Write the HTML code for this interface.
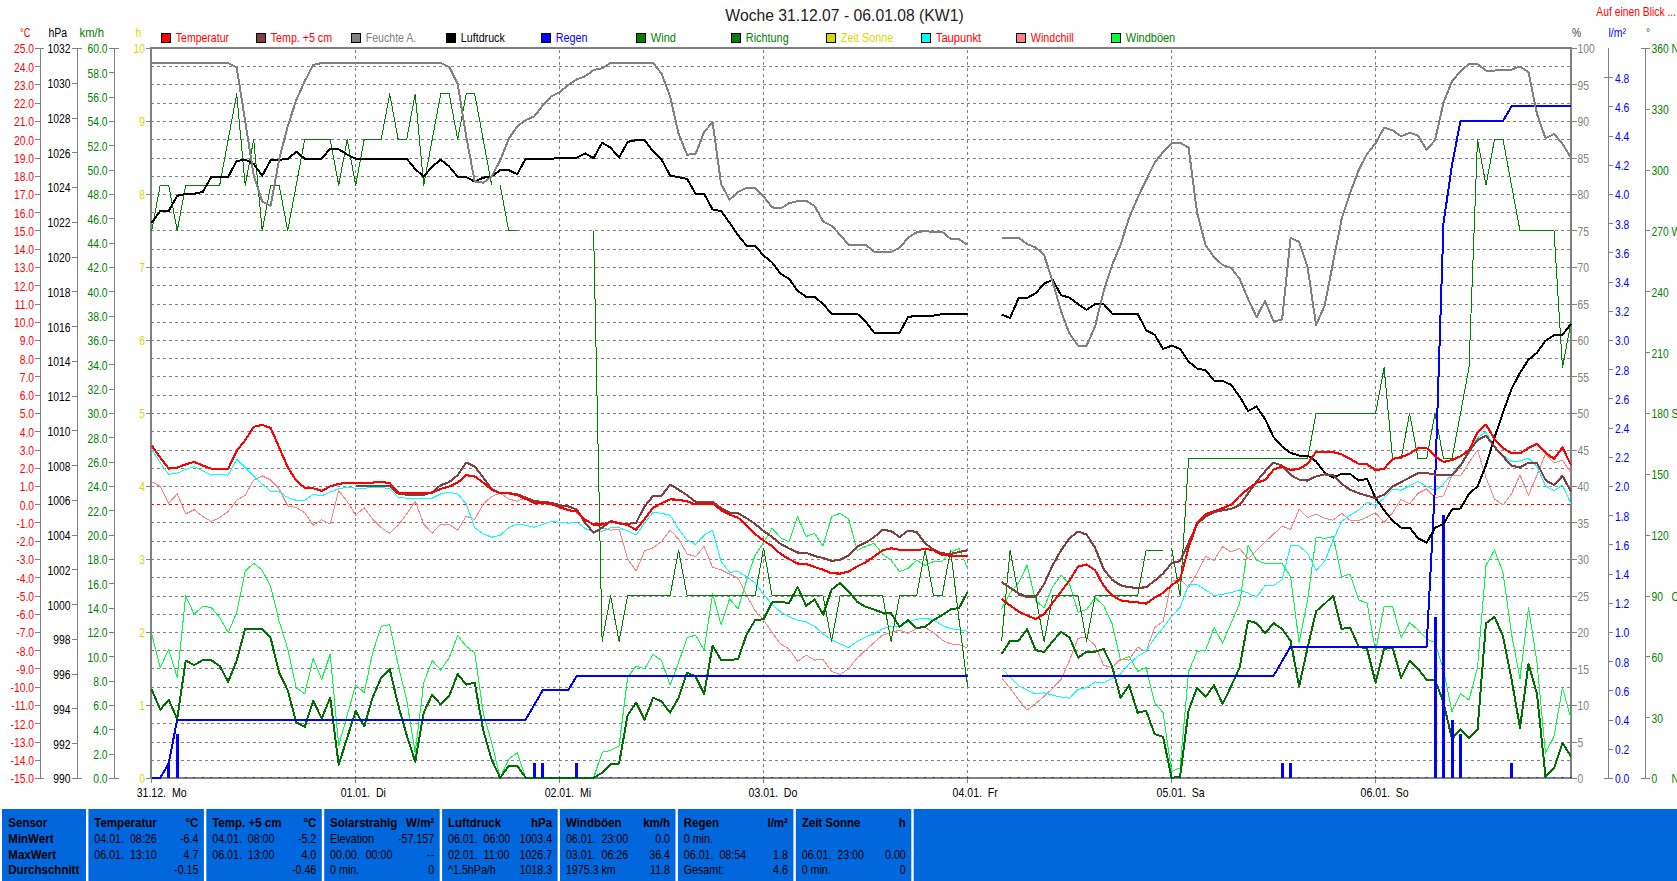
<!DOCTYPE html>
<html lang="de"><head><meta charset="utf-8"><title>Woche 31.12.07 - 06.01.08 (KW1)</title>
<style>html,body{margin:0;padding:0;background:#fff;overflow:hidden}svg{display:block}</style></head>
<body>
<svg width="1677" height="881" viewBox="0 0 1677 881" font-family="'Liberation Sans', Arial, sans-serif">
<rect width="1677" height="881" fill="#fff"/>
<text transform="translate(844.5,20.5) scale(0.983,1)" font-size="16" fill="#202020" text-anchor="middle" xml:space="preserve">Woche 31.12.07 - 06.01.08 (KW1)</text>
<text transform="translate(1676.0,16.0) scale(0.86,1)" font-size="12" fill="#ff0000" text-anchor="end" xml:space="preserve">Auf einen Blick ...</text>
<g shape-rendering="crispEdges" stroke="#808080" stroke-width="1" stroke-dasharray="3 3" fill="none">
<path d="M151 66.5H1570"/>
<path d="M151 84.5H1570"/>
<path d="M151 103.5H1570"/>
<path d="M151 121.5H1570"/>
<path d="M151 139.5H1570"/>
<path d="M151 158.5H1570"/>
<path d="M151 176.5H1570"/>
<path d="M151 194.5H1570"/>
<path d="M151 212.5H1570"/>
<path d="M151 230.5H1570"/>
<path d="M151 249.5H1570"/>
<path d="M151 267.5H1570"/>
<path d="M151 285.5H1570"/>
<path d="M151 304.5H1570"/>
<path d="M151 322.5H1570"/>
<path d="M151 340.5H1570"/>
<path d="M151 358.5H1570"/>
<path d="M151 376.5H1570"/>
<path d="M151 395.5H1570"/>
<path d="M151 413.5H1570"/>
<path d="M151 431.5H1570"/>
<path d="M151 450.5H1570"/>
<path d="M151 468.5H1570"/>
<path d="M151 486.5H1570"/>
<path d="M151 522.5H1570"/>
<path d="M151 541.5H1570"/>
<path d="M151 559.5H1570"/>
<path d="M151 577.5H1570"/>
<path d="M151 596.5H1570"/>
<path d="M151 614.5H1570"/>
<path d="M151 632.5H1570"/>
<path d="M151 650.5H1570"/>
<path d="M151 668.5H1570"/>
<path d="M151 687.5H1570"/>
<path d="M151 705.5H1570"/>
<path d="M151 723.5H1570"/>
<path d="M151 742.5H1570"/>
<path d="M151 760.5H1570"/>
<path d="M355.5 50V777"/>
<path d="M559.5 50V777"/>
<path d="M763.5 50V777"/>
<path d="M967.5 50V777"/>
<path d="M1171.5 50V777"/>
<path d="M1375.5 50V777"/>
</g>
<path d="M151 504.5H1570" stroke="#ff0000" stroke-width="1" stroke-dasharray="3 3" shape-rendering="crispEdges" fill="none"/>
<g shape-rendering="crispEdges">
<rect x="150" y="47" width="1422" height="2" fill="#808080"/>
<rect x="150" y="777" width="1422" height="2" fill="#808080"/>
<rect x="150" y="47" width="2" height="732" fill="#808080"/>
<rect x="1570" y="47" width="2" height="732" fill="#808080"/>
</g>
<clipPath id="cp"><rect x="150" y="47" width="1422" height="732"/></clipPath>
<g clip-path="url(#cp)" shape-rendering="crispEdges">
<polyline points="151.7,633.8 160.2,667.7 168.7,649.4 177.2,677.7 185.7,595.8 194.2,614.3 202.7,606.3 211.2,607.5 219.7,617.6 228.2,632.6 236.7,612.6 245.2,571.2 253.7,563.2 262.2,570.2 270.7,586.5 279.2,621.3 287.7,648.9 296.2,687.7 304.7,693.9 313.2,658.4 321.7,679.4 330.2,653.9 338.7,745.8 347.2,715.2 355.7,684.7 364.2,692.7 372.7,652.6 381.2,626.3 389.7,624.6 398.2,665.1 406.7,700.2 415.2,752.8 423.7,682.7 432.2,660.6 440.7,670.2 449.2,657.6 457.7,635.6 466.2,646.4 474.7,652.6 483.2,712.7 491.7,742.8 500.2,777.8 508.7,759.1 517.2,752.8 525.7,777.8 593.6,777.8 602.1,752.3 610.6,750.3 619.1,745.8 627.6,677.7 636.1,665.9 644.6,668.9 653.1,654.4 661.6,660.6 670.1,685.2 678.6,662.6 687.1,637.6 695.6,635.1 704.1,650.1 712.6,593.8 721.1,624.6 729.6,598.8 738.1,608.8 746.6,580.5 755.1,555.3 763.6,542.7 772.1,528.2 780.6,537.7 789.1,542.0 797.6,516.5 806.1,536.5 814.6,533.5 823.1,546.0 831.6,516.5 840.1,513.4 848.6,519.0 857.1,550.3 865.6,546.5 874.1,543.3 882.6,554.0 891.1,560.3 899.6,571.6 908.1,568.3 916.6,560.3 925.1,565.3 933.6,561.5 942.1,561.0 950.6,552.0 959.1,548.5 967.6,568.3" fill="none" stroke="#00ff40" stroke-width="1" stroke-linejoin="round"/>
<polyline points="1001.6,609.1 1010.1,592.8 1018.6,582.8 1027.1,565.3 1035.6,600.4 1044.1,607.9 1052.6,586.6 1061.1,575.3 1069.6,584.1 1078.1,612.4 1086.6,609.4 1095.1,597.8 1103.6,605.4 1112.1,623.8 1120.6,660.1 1129.1,656.4 1137.6,671.4 1146.1,667.7 1154.6,702.7 1163.1,712.7 1171.6,771.6 1180.1,767.8 1188.6,671.4 1197.1,651.4 1205.6,650.1 1214.1,627.6 1222.6,643.1 1231.1,623.1 1239.6,603.8 1248.1,545.3 1256.6,560.3 1265.1,563.3 1273.6,563.3 1282.1,563.3 1290.6,576.6 1299.1,642.6 1307.6,600.0 1316.1,537.0 1324.6,538.5 1333.1,536.5 1341.6,576.6 1350.1,574.1 1358.6,600.0 1367.1,603.0 1375.6,651.4 1384.1,606.3 1392.6,606.3 1401.1,637.6 1409.6,622.6 1418.1,630.1 1426.6,638.9 1435.0,642.6 1443.5,670.2 1452.0,711.5 1460.5,693.9 1469.0,700.2 1477.5,667.7 1486.0,565.5 1494.5,549.9 1503.0,572.5 1511.5,633.8 1520.0,678.9 1528.5,607.5 1537.0,662.6 1545.5,753.3 1554.0,736.5 1562.5,687.7 1571.0,719.0" fill="none" stroke="#00ff40" stroke-width="1" stroke-linejoin="round"/>
<polyline points="151.7,481.9 160.2,486.4 168.7,503.4 177.2,493.9 185.7,513.9 194.2,509.7 202.7,516.5 211.2,521.5 219.7,517.7 228.2,511.4 236.7,500.2 245.2,495.2 253.7,480.1 262.2,475.9 270.7,480.1 279.2,488.9 287.7,505.9 296.2,507.7 304.7,512.7 313.2,525.2 321.7,519.7 330.2,524.0 338.7,490.7 347.2,501.4 355.7,515.2 364.2,507.7 372.7,519.0 381.2,527.7 389.7,533.2 398.2,525.2 406.7,513.9 415.2,501.4 423.7,524.0 432.2,533.2 440.7,524.0 449.2,524.5 457.7,530.2 466.2,516.0 474.7,519.7 483.2,503.9 491.7,496.4 500.2,493.2 508.7,498.9 517.2,501.4 525.7,497.7 534.2,502.7 542.7,503.2 551.2,503.9 559.7,507.2 568.2,510.2 576.7,511.4 585.1,519.7 593.6,524.5 602.1,527.7 610.6,530.2 619.1,529.2 627.6,559.0 636.1,571.0 644.6,551.0 653.1,547.8 661.6,541.5 670.1,530.2 678.6,539.0 687.1,554.0 695.6,556.5 704.1,546.5 712.6,567.3 721.1,569.8 729.6,574.1 738.1,578.3 746.6,595.5 755.1,610.6 763.6,620.1 772.1,632.6 780.6,643.9 789.1,648.9 797.6,661.4 806.1,655.1 814.6,660.1 823.1,659.4 831.6,671.4 840.1,674.4 848.6,668.9 857.1,658.1 865.6,650.1 874.1,642.6 882.6,635.1 891.1,632.6 899.6,630.1 908.1,633.3 916.6,628.3 925.1,627.6 933.6,632.6 942.1,640.1 950.6,643.9 959.1,644.6 967.6,648.1" fill="none" stroke="#ff8080" stroke-width="1" stroke-linejoin="round"/>
<polyline points="1001.6,677.7 1010.1,688.4 1018.6,699.7 1027.1,710.2 1035.6,703.5 1044.1,696.5 1052.6,688.2 1061.1,679.4 1069.6,660.1 1078.1,638.1 1086.6,637.6 1095.1,645.6 1103.6,665.1 1112.1,667.7 1120.6,658.9 1129.1,660.1 1137.6,647.1 1146.1,651.4 1154.6,627.6 1163.1,621.3 1171.6,581.3 1180.1,579.5 1188.6,587.5 1197.1,572.8 1205.6,556.5 1214.1,560.3 1222.6,546.5 1231.1,552.0 1239.6,548.3 1248.1,559.0 1256.6,550.3 1265.1,542.0 1273.6,534.0 1282.1,526.0 1290.6,529.5 1299.1,509.4 1307.6,517.7 1316.1,513.9 1324.6,518.2 1333.1,520.2 1341.6,513.4 1350.1,520.2 1358.6,520.7 1367.1,517.2 1375.6,512.7 1384.1,522.7 1392.6,512.7 1401.1,499.4 1409.6,503.9 1418.1,493.2 1426.6,488.9 1435.0,497.7 1443.5,495.9 1452.0,475.1 1460.5,475.9 1469.0,462.6 1477.5,450.1 1486.0,477.6 1494.5,498.9 1503.0,505.2 1511.5,493.9 1520.0,475.1 1528.5,495.2 1537.0,475.1 1545.5,453.8 1554.0,463.1 1562.5,460.1 1571.0,473.1" fill="none" stroke="#ff8080" stroke-width="1" stroke-linejoin="round"/>
<polyline points="151.7,449.3 160.2,462.6 168.7,474.4 177.2,473.1 185.7,469.4 194.2,466.6 202.7,470.9 211.2,475.1 219.7,474.1 228.2,475.1 236.7,459.4 245.2,467.6 253.7,476.4 262.2,483.9 270.7,491.4 279.2,491.7 287.7,497.7 296.2,500.2 304.7,500.2 313.2,494.4 321.7,495.9 330.2,491.9 338.7,488.9 347.2,487.2 355.7,488.2 364.2,488.2 372.7,487.7 381.2,487.7 389.7,488.4 398.2,497.2 406.7,498.2 432.2,498.2 440.7,493.9 449.2,492.2 457.7,493.9 466.2,503.9 474.7,527.7 483.2,534.0 491.7,537.2 500.2,535.2 508.7,527.7 517.2,524.0 525.7,525.2 534.2,527.2 542.7,524.5 551.2,521.5 559.7,522.2 568.2,523.2 576.7,522.2 585.1,528.5 593.6,531.5 602.1,531.5 610.6,527.7 619.1,527.7 627.6,531.0 636.1,535.2 644.6,522.7 653.1,512.2 661.6,513.4 670.1,515.2 678.6,529.0 687.1,540.2 695.6,544.5 704.1,535.2 712.6,530.2 721.1,561.5 729.6,572.3 738.1,571.6 746.6,576.6 755.1,583.0 763.6,594.5 772.1,604.3 780.6,612.1 789.1,616.8 797.6,620.1 806.1,621.8 814.6,626.3 823.1,633.8 831.6,640.1 840.1,643.9 848.6,647.6 857.1,641.4 865.6,637.1 874.1,633.8 882.6,628.8 891.1,626.3 899.6,626.3 908.1,621.8 916.6,619.3 925.1,618.3 933.6,620.1 942.1,625.1 950.6,628.8 959.1,629.6 967.6,631.3" fill="none" stroke="#00ffff" stroke-width="1" stroke-linejoin="round"/>
<polyline points="1001.6,668.9 1010.1,676.9 1018.6,685.9 1027.1,690.2 1035.6,693.9 1044.1,692.7 1052.6,695.2 1061.1,697.0 1069.6,698.2 1078.1,689.4 1086.6,687.7 1095.1,681.9 1103.6,682.7 1112.1,678.4 1120.6,673.9 1129.1,663.9 1137.6,656.4 1146.1,651.4 1154.6,638.1 1163.1,627.6 1171.6,616.3 1180.1,607.5 1188.6,584.5 1197.1,584.5 1205.6,590.0 1214.1,595.5 1222.6,594.3 1231.1,592.5 1239.6,590.0 1248.1,593.0 1256.6,597.0 1265.1,585.5 1273.6,585.5 1282.1,579.8 1290.6,545.3 1299.1,546.0 1307.6,553.3 1316.1,570.3 1324.6,561.5 1333.1,540.2 1341.6,521.5 1350.1,515.2 1358.6,510.2 1367.1,501.9 1375.6,505.9 1384.1,497.7 1392.6,489.4 1401.1,490.2 1409.6,485.9 1418.1,481.4 1426.6,486.4 1435.0,490.7 1443.5,483.9 1452.0,473.9 1460.5,463.9 1469.0,453.8 1477.5,437.6 1486.0,432.1 1494.5,446.3 1503.0,455.1 1511.5,461.9 1520.0,460.9 1528.5,458.1 1537.0,466.4 1545.5,485.9 1554.0,490.7 1562.5,485.1 1571.0,503.9" fill="none" stroke="#00ffff" stroke-width="1" stroke-linejoin="round"/>
<polyline points="151.7,230.8 160.2,185.2 168.7,185.2 177.2,230.8 185.7,185.2 219.7,185.2 228.2,139.5 236.7,93.9 245.2,185.2 253.7,139.5 262.2,230.8 270.7,185.2 279.2,185.2 287.7,230.8 296.2,185.2 304.7,139.5 330.2,139.5 338.7,185.2 347.2,139.5 355.7,185.2 364.2,139.5 381.2,139.5 389.7,93.9 398.2,139.5 406.7,139.5 415.2,93.9 423.7,185.2 432.2,139.5 440.7,93.9 449.2,93.9 457.7,139.5 466.2,93.9 474.7,93.9 483.2,139.5 491.7,185.2" fill="none" stroke="#008000" stroke-width="1" stroke-linejoin="round"/>
<polyline points="500.2,185.2 508.7,230.8 517.2,230.8" fill="none" stroke="#008000" stroke-width="1" stroke-linejoin="round"/>
<polyline points="593.6,230.8 602.1,641.4 610.6,595.8 619.1,641.4 627.6,595.8 670.1,595.8 678.6,550.2 687.1,595.8 755.1,595.8 763.6,548.1 772.1,595.8 823.1,595.8 831.6,641.4 840.1,595.8 882.6,595.8 891.1,641.4 899.6,595.8 916.6,595.8 925.1,550.2 933.6,595.8 942.1,595.8 950.6,550.2 959.1,620.1 967.6,687.0" fill="none" stroke="#008000" stroke-width="1" stroke-linejoin="round"/>
<polyline points="1001.6,641.4 1010.1,550.2 1018.6,595.8 1035.6,595.8 1044.1,641.4 1052.6,595.8 1078.1,595.8 1086.6,641.4 1095.1,595.8 1137.6,595.8 1146.1,550.2 1163.1,550.2" fill="none" stroke="#008000" stroke-width="1" stroke-linejoin="round"/>
<polyline points="1171.6,548.1 1180.1,595.8 1188.6,458.9 1307.6,458.9 1316.1,413.3 1375.6,413.3 1384.1,367.7 1392.6,458.9 1401.1,458.9 1409.6,413.3 1418.1,458.9 1426.6,458.9 1435.0,413.3 1443.5,458.9 1452.0,458.9 1460.5,413.3 1469.0,367.7 1477.5,139.5 1486.0,185.2 1494.5,139.5 1503.0,139.5 1511.5,185.2 1520.0,230.8 1554.0,230.8 1562.5,367.7 1571.0,322.0" fill="none" stroke="#008000" stroke-width="1" stroke-linejoin="round"/>
<polyline points="151.7,689.4 160.2,709.7 168.7,699.7 177.2,719.0 185.7,660.6 194.2,665.1 202.7,660.1 211.2,660.1 219.7,665.9 228.2,681.9 236.7,660.6 245.2,628.8 253.7,628.8 262.2,628.8 270.7,638.1 279.2,672.7 287.7,690.2 296.2,722.2 304.7,727.0 313.2,700.7 321.7,718.5 330.2,697.7 338.7,764.8 347.2,737.8 355.7,711.0 364.2,726.5 372.7,697.2 381.2,677.7 389.7,668.9 398.2,705.2 406.7,735.3 415.2,761.6 423.7,712.7 432.2,694.7 440.7,704.5 449.2,696.0 457.7,673.9 466.2,684.7 474.7,682.7 483.2,730.3 491.7,759.8 500.2,777.8 508.7,765.8 517.2,765.8 525.7,777.8 593.6,777.8 602.1,772.8 610.6,764.1 619.1,763.6 627.6,715.2 636.1,702.7 644.6,719.5 653.1,697.7 661.6,701.5 670.1,712.7 678.6,697.7 687.1,672.7 695.6,676.4 704.1,693.9 712.6,645.6 721.1,660.1 729.6,660.1 738.1,658.9 746.6,634.6 755.1,620.1 763.6,619.3 772.1,602.5 780.6,602.0 789.1,603.0 797.6,587.0 806.1,605.8 814.6,599.5 823.1,614.6 831.6,589.5 840.1,583.0 848.6,591.3 857.1,601.8 865.6,606.8 874.1,609.6 882.6,612.6 891.1,613.3 899.6,626.8 908.1,620.1 916.6,628.1 925.1,626.8 933.6,620.1 942.1,615.1 950.6,609.3 959.1,608.0 967.6,591.8" fill="none" stroke="#006e00" stroke-width="2" stroke-linejoin="round"/>
<polyline points="1001.6,653.9 1010.1,640.9 1018.6,640.6 1027.1,629.3 1035.6,650.1 1044.1,651.9 1052.6,641.4 1061.1,631.8 1069.6,637.6 1078.1,657.6 1086.6,651.9 1095.1,651.9 1103.6,648.9 1112.1,666.4 1120.6,697.7 1129.1,685.2 1137.6,712.7 1146.1,710.7 1154.6,734.0 1163.1,737.0 1171.6,777.8 1180.1,776.6 1188.6,710.2 1197.1,687.7 1205.6,697.0 1214.1,685.2 1222.6,704.0 1231.1,686.4 1239.6,667.7 1248.1,620.6 1256.6,623.1 1265.1,633.3 1273.6,623.1 1282.1,628.8 1290.6,640.9 1299.1,686.4 1307.6,647.6 1316.1,611.3 1324.6,603.8 1333.1,595.8 1341.6,628.8 1350.1,627.6 1358.6,646.4 1367.1,648.9 1375.6,682.7 1384.1,648.9 1392.6,647.6 1401.1,677.7 1409.6,660.6 1418.1,668.9 1426.6,679.7 1435.0,679.7 1443.5,702.7 1452.0,739.0 1460.5,729.0 1469.0,738.3 1477.5,729.8 1486.0,623.3 1494.5,616.8 1503.0,636.3 1511.5,678.9 1520.0,727.8 1528.5,663.9 1537.0,693.9 1545.5,776.6 1554.0,768.3 1562.5,742.8 1571.0,756.6" fill="none" stroke="#006e00" stroke-width="2" stroke-linejoin="round"/>
<rect x="167.2" y="763.4" width="3" height="14.6" fill="#0000ff"/>
<rect x="175.7" y="734.2" width="3" height="43.8" fill="#0000ff"/>
<rect x="532.7" y="763.4" width="3" height="14.6" fill="#0000ff"/>
<rect x="541.2" y="763.4" width="3" height="14.6" fill="#0000ff"/>
<rect x="575.2" y="763.4" width="3" height="14.6" fill="#0000ff"/>
<rect x="1280.6" y="763.4" width="3" height="14.6" fill="#0000ff"/>
<rect x="1289.1" y="763.4" width="3" height="14.6" fill="#0000ff"/>
<rect x="1433.5" y="617.4" width="3" height="160.6" fill="#0000ff"/>
<rect x="1442.0" y="515.2" width="3" height="262.8" fill="#0000ff"/>
<rect x="1450.5" y="719.6" width="3" height="58.4" fill="#0000ff"/>
<rect x="1459.0" y="734.2" width="3" height="43.8" fill="#0000ff"/>
<rect x="1510.0" y="763.4" width="3" height="14.6" fill="#0000ff"/>
<polyline points="151.7,778.0 160.2,778.0 168.7,763.4 177.2,719.6 525.7,719.6 534.2,705.0 542.7,690.4 568.2,690.4 576.7,675.8 967.6,675.8" fill="none" stroke="#0000ff" stroke-width="2" stroke-linejoin="round"/>
<polyline points="1001.6,675.8 1273.6,675.8 1282.1,661.2 1290.6,646.6 1426.6,646.6 1435.0,486.0 1443.5,223.2 1452.0,164.8 1460.5,121.0 1503.0,121.0 1511.5,106.4 1571.0,106.4" fill="none" stroke="#0000ff" stroke-width="2" stroke-linejoin="round"/>
<polyline points="151.7,222.8 160.2,211.0 168.7,211.0 177.2,195.8 185.7,194.0 194.2,193.8 202.7,192.0 211.2,177.2 219.7,176.7 228.2,176.7 236.7,161.0 245.2,159.7 253.7,164.0 262.2,175.7 270.7,160.2 279.2,159.7 287.7,159.2 296.2,151.7 304.7,158.7 313.2,158.7 321.7,158.7 330.2,148.7 338.7,149.2 347.2,154.7 355.7,158.7 406.7,158.7 415.2,169.0 423.7,176.7 432.2,166.5 440.7,159.7 449.2,166.5 457.7,176.7 466.2,177.2 474.7,181.5 483.2,177.7 491.7,176.5 500.2,170.2 508.7,170.2 517.2,174.2 525.7,158.7 534.2,158.7 542.7,158.7 551.2,158.7 559.7,158.2 568.2,157.7 576.7,157.7 585.1,153.4 593.6,158.2 602.1,142.7 610.6,147.7 619.1,157.7 627.6,141.9 636.1,140.2 644.6,140.2 653.1,151.4 661.6,159.7 670.1,175.5 678.6,177.2 687.1,179.0 695.6,193.8 704.1,193.8 712.6,209.5 721.1,211.0 729.6,222.8 738.1,235.3 746.6,245.6 755.1,245.9 763.6,255.5 772.1,262.5 780.6,273.8 789.1,278.8 797.6,290.8 806.1,296.8 814.6,296.8 823.1,304.1 831.6,313.6 857.1,313.6 865.6,321.4 874.1,332.7 899.6,332.7 908.1,317.1 916.6,315.6 933.6,315.6 942.1,314.1 959.1,313.9 967.6,314.1" fill="none" stroke="#000000" stroke-width="2" stroke-linejoin="round"/>
<polyline points="1001.6,314.6 1010.1,317.9 1018.6,298.1 1027.1,297.9 1035.6,293.3 1044.1,283.8 1052.6,279.6 1061.1,295.3 1069.6,297.6 1078.1,304.1 1086.6,309.9 1095.1,304.1 1103.6,304.1 1112.1,313.6 1137.6,313.6 1146.1,330.2 1154.6,334.7 1163.1,348.9 1171.6,345.7 1180.1,348.9 1188.6,361.5 1197.1,368.5 1205.6,370.2 1214.1,380.7 1222.6,381.0 1231.1,384.8 1239.6,396.5 1248.1,411.0 1256.6,406.5 1265.1,419.1 1273.6,437.1 1282.1,446.6 1290.6,452.9 1299.1,455.6 1307.6,455.6 1316.1,461.4 1324.6,472.6 1333.1,477.6 1341.6,473.9 1350.1,473.9 1358.6,480.6 1367.1,478.9 1375.6,498.2 1384.1,510.2 1392.6,520.7 1401.1,527.7 1409.6,527.7 1418.1,538.2 1426.6,542.7 1435.0,527.7 1443.5,524.0 1452.0,509.4 1460.5,508.4 1469.0,493.9 1477.5,486.4 1486.0,465.1 1494.5,437.6 1503.0,412.5 1511.5,389.0 1520.0,372.7 1528.5,359.7 1537.0,352.7 1545.5,340.7 1554.0,335.2 1562.5,334.7 1571.0,323.9" fill="none" stroke="#000000" stroke-width="2" stroke-linejoin="round"/>
<polyline points="151.7,63.0 228.2,63.0 236.7,67.5 245.2,121.4 253.7,175.2 262.2,201.5 270.7,205.8 279.2,159.0 287.7,126.4 296.2,100.1 304.7,81.3 313.2,65.0 321.7,63.0 440.7,63.0 449.2,67.0 457.7,83.8 466.2,136.4 474.7,181.5 483.2,182.7 491.7,176.5 500.2,160.2 508.7,138.9 517.2,126.4 525.7,120.1 534.2,116.4 542.7,105.6 551.2,96.3 559.7,92.1 568.2,85.1 576.7,79.3 585.1,76.3 593.6,70.1 602.1,68.3 610.6,63.0 653.1,63.0 661.6,73.8 670.1,96.3 678.6,133.9 687.1,154.7 695.6,153.9 704.1,132.2 712.6,122.1 721.1,184.0 729.6,199.8 738.1,192.0 746.6,187.8 755.1,187.8 763.6,196.5 772.1,207.3 780.6,208.5 789.1,203.3 797.6,201.0 806.1,200.8 814.6,206.0 823.1,221.6 831.6,225.8 840.1,234.8 848.6,244.9 857.1,244.9 865.6,244.9 874.1,251.6 882.6,251.9 891.1,251.9 899.6,247.9 908.1,237.8 916.6,232.3 925.1,231.1 933.6,232.1 942.1,231.8 950.6,238.8 959.1,239.1 967.6,244.9" fill="none" stroke="#808080" stroke-width="2" stroke-linejoin="round"/>
<polyline points="1001.6,237.8 1010.1,237.8 1018.6,237.8 1027.1,244.1 1035.6,247.4 1044.1,255.0 1052.6,281.3 1061.1,311.4 1069.6,333.9 1078.1,345.7 1086.6,345.7 1095.1,326.4 1103.6,291.3 1112.1,265.0 1120.6,245.0 1129.1,217.8 1137.6,197.8 1146.1,180.2 1154.6,162.7 1163.1,151.9 1171.6,143.4 1180.1,142.7 1188.6,147.7 1197.1,212.8 1205.6,245.4 1214.1,257.0 1222.6,265.0 1231.1,268.0 1239.6,278.8 1248.1,298.9 1256.6,317.1 1265.1,300.9 1273.6,321.4 1282.1,319.6 1290.6,237.8 1299.1,241.9 1307.6,267.5 1316.1,325.1 1324.6,305.6 1333.1,262.5 1341.6,219.1 1350.1,192.8 1358.6,170.2 1367.1,153.9 1375.6,143.2 1384.1,127.7 1392.6,130.2 1401.1,136.4 1409.6,132.7 1418.1,135.7 1426.6,149.7 1435.0,140.2 1443.5,102.6 1452.0,81.3 1460.5,71.3 1469.0,63.8 1477.5,64.0 1486.0,70.6 1494.5,70.6 1503.0,69.6 1511.5,69.6 1520.0,66.5 1528.5,72.1 1537.0,113.9 1545.5,138.2 1554.0,133.9 1562.5,143.9 1571.0,157.7" fill="none" stroke="#808080" stroke-width="2" stroke-linejoin="round"/>
<polyline points="355.7,485.6 364.2,485.6 389.7,485.9 398.2,493.7 406.7,494.7 423.7,494.7 432.2,492.2 440.7,485.1 449.2,482.1 457.7,475.1 466.2,462.6 474.7,466.4 483.2,477.6 491.7,488.9 500.2,493.2 508.7,493.2 517.2,494.2 525.7,497.7 534.2,500.9 542.7,502.2 551.2,502.7 559.7,505.2 568.2,506.4 576.7,509.4 585.1,522.7 593.6,532.7 602.1,527.7 610.6,521.0 619.1,523.5 627.6,524.0 636.1,522.7 644.6,506.4 653.1,495.9 661.6,495.7 670.1,484.6 678.6,489.7 687.1,495.2 695.6,501.9 704.1,501.9 712.6,501.9 721.1,508.2 729.6,512.7 738.1,513.2 746.6,518.2 755.1,524.0 763.6,531.0 772.1,537.0 780.6,544.0 789.1,548.5 797.6,552.5 806.1,552.8 814.6,556.0 823.1,558.0 831.6,560.8 840.1,559.8 848.6,555.3 857.1,546.5 865.6,542.7 874.1,537.2 882.6,529.7 891.1,531.0 899.6,537.0 908.1,530.7 916.6,532.0 925.1,543.3 933.6,549.8 942.1,553.3 950.6,554.0 959.1,552.0 967.6,550.3" fill="none" stroke="#804040" stroke-width="2.1" stroke-linejoin="round"/>
<polyline points="1001.6,582.1 1010.1,587.8 1018.6,593.3 1027.1,597.3 1035.6,597.3 1044.1,584.1 1052.6,565.3 1061.1,550.3 1069.6,538.2 1078.1,531.5 1086.6,534.5 1095.1,547.8 1103.6,569.0 1112.1,579.8 1120.6,585.3 1129.1,587.3 1137.6,587.8 1146.1,587.3 1154.6,580.8 1163.1,573.6 1171.6,563.3 1180.1,561.0 1188.6,542.7 1197.1,524.0 1205.6,516.5 1214.1,512.2 1222.6,510.2 1231.1,508.9 1239.6,505.2 1248.1,493.4 1256.6,481.4 1265.1,471.4 1273.6,462.6 1282.1,465.6 1290.6,475.1 1299.1,479.6 1307.6,480.6 1316.1,476.4 1324.6,474.4 1333.1,475.1 1341.6,483.9 1350.1,489.7 1358.6,493.2 1367.1,495.7 1375.6,498.2 1384.1,494.7 1392.6,486.4 1401.1,482.1 1409.6,477.6 1418.1,473.1 1426.6,473.1 1435.0,474.6 1443.5,475.1 1452.0,475.1 1460.5,465.6 1469.0,451.3 1477.5,440.1 1486.0,435.8 1494.5,446.8 1503.0,456.3 1511.5,465.6 1520.0,467.6 1528.5,462.6 1537.0,463.1 1545.5,480.1 1554.0,485.1 1562.5,475.9 1571.0,491.4" fill="none" stroke="#804040" stroke-width="2.1" stroke-linejoin="round"/>
<polyline points="151.7,445.8 160.2,457.6 168.7,468.6 177.2,467.6 185.7,464.4 194.2,461.9 202.7,465.6 211.2,468.6 219.7,468.6 228.2,468.6 236.7,450.8 245.2,440.1 253.7,426.8 262.2,424.8 270.7,428.0 279.2,447.6 287.7,467.1 296.2,480.6 304.7,487.7 313.2,488.2 321.7,490.9 330.2,486.4 338.7,483.9 347.2,482.6 355.7,482.9 364.2,482.9 372.7,482.6 381.2,481.9 389.7,483.1 398.2,492.7 406.7,493.4 415.2,493.4 423.7,493.4 432.2,492.7 440.7,488.9 449.2,486.4 457.7,482.6 466.2,475.1 474.7,476.4 483.2,482.6 491.7,489.7 500.2,493.2 508.7,493.4 517.2,495.2 525.7,498.9 534.2,502.7 542.7,503.2 551.2,503.9 559.7,507.2 568.2,510.2 576.7,511.4 585.1,519.7 593.6,524.5 602.1,524.5 610.6,522.0 619.1,522.7 627.6,525.2 636.1,529.7 644.6,519.0 653.1,507.7 661.6,503.2 670.1,499.4 678.6,499.7 687.1,501.4 695.6,504.4 704.1,504.4 712.6,503.4 721.1,510.2 729.6,514.7 738.1,517.7 746.6,525.2 755.1,534.0 763.6,540.7 772.1,546.0 780.6,554.0 789.1,559.0 797.6,563.5 806.1,564.0 814.6,567.0 823.1,569.8 831.6,573.3 840.1,573.6 848.6,571.6 857.1,566.5 865.6,562.3 874.1,556.5 882.6,550.3 891.1,548.3 899.6,549.8 908.1,550.3 916.6,550.3 925.1,548.8 933.6,550.3 942.1,554.8 950.6,555.8 959.1,555.8 967.6,555.8" fill="none" stroke="#ff0000" stroke-width="2.1" stroke-linejoin="round"/>
<polyline points="1001.6,599.1 1010.1,605.4 1018.6,611.6 1027.1,615.4 1035.6,619.1 1044.1,614.1 1052.6,602.9 1061.1,591.6 1069.6,580.3 1078.1,566.5 1086.6,564.5 1095.1,570.3 1103.6,585.8 1112.1,595.3 1120.6,600.4 1129.1,601.6 1137.6,602.4 1146.1,603.6 1154.6,597.8 1163.1,592.8 1171.6,585.3 1180.1,579.1 1188.6,547.8 1197.1,522.7 1205.6,513.9 1214.1,511.4 1222.6,508.2 1231.1,504.7 1239.6,495.9 1248.1,488.9 1256.6,482.6 1265.1,480.1 1273.6,469.6 1282.1,466.4 1290.6,470.1 1299.1,468.9 1307.6,463.9 1316.1,451.8 1324.6,451.6 1333.1,452.1 1341.6,454.3 1350.1,458.9 1358.6,463.9 1367.1,464.4 1375.6,470.1 1384.1,468.9 1392.6,458.9 1401.1,457.1 1409.6,453.8 1418.1,448.1 1426.6,448.1 1435.0,456.3 1443.5,461.9 1452.0,460.1 1460.5,456.3 1469.0,450.1 1477.5,432.6 1486.0,424.5 1494.5,439.3 1503.0,448.1 1511.5,453.3 1520.0,453.3 1528.5,448.1 1537.0,443.8 1545.5,452.6 1554.0,458.9 1562.5,447.6 1571.0,465.1" fill="none" stroke="#ff0000" stroke-width="2.1" stroke-linejoin="round"/>
</g>
<g shape-rendering="crispEdges">
<rect x="151" y="779" width="1" height="4" fill="#808080"/>
<rect x="355" y="779" width="1" height="4" fill="#808080"/>
<rect x="559" y="779" width="1" height="4" fill="#808080"/>
<rect x="763" y="779" width="1" height="4" fill="#808080"/>
<rect x="967" y="779" width="1" height="4" fill="#808080"/>
<rect x="1171" y="779" width="1" height="4" fill="#808080"/>
<rect x="1375" y="779" width="1" height="4" fill="#808080"/>
<rect x="40" y="48" width="1" height="731" fill="#808080"/>
<rect x="36" y="48" width="8" height="1" fill="#808080"/>
<rect x="36" y="778" width="8" height="1" fill="#808080"/>
<rect x="35" y="48" width="5" height="1" fill="#808080"/>
<rect x="35" y="66" width="5" height="1" fill="#808080"/>
<rect x="35" y="84" width="5" height="1" fill="#808080"/>
<rect x="35" y="103" width="5" height="1" fill="#808080"/>
<rect x="35" y="121" width="5" height="1" fill="#808080"/>
<rect x="35" y="139" width="5" height="1" fill="#808080"/>
<rect x="35" y="158" width="5" height="1" fill="#808080"/>
<rect x="35" y="176" width="5" height="1" fill="#808080"/>
<rect x="35" y="194" width="5" height="1" fill="#808080"/>
<rect x="35" y="212" width="5" height="1" fill="#808080"/>
<rect x="35" y="230" width="5" height="1" fill="#808080"/>
<rect x="35" y="249" width="5" height="1" fill="#808080"/>
<rect x="35" y="267" width="5" height="1" fill="#808080"/>
<rect x="35" y="285" width="5" height="1" fill="#808080"/>
<rect x="35" y="304" width="5" height="1" fill="#808080"/>
<rect x="35" y="322" width="5" height="1" fill="#808080"/>
<rect x="35" y="340" width="5" height="1" fill="#808080"/>
<rect x="35" y="358" width="5" height="1" fill="#808080"/>
<rect x="35" y="376" width="5" height="1" fill="#808080"/>
<rect x="35" y="395" width="5" height="1" fill="#808080"/>
<rect x="35" y="413" width="5" height="1" fill="#808080"/>
<rect x="35" y="431" width="5" height="1" fill="#808080"/>
<rect x="35" y="450" width="5" height="1" fill="#808080"/>
<rect x="35" y="468" width="5" height="1" fill="#808080"/>
<rect x="35" y="486" width="5" height="1" fill="#808080"/>
<rect x="35" y="504" width="5" height="1" fill="#808080"/>
<rect x="35" y="522" width="5" height="1" fill="#808080"/>
<rect x="35" y="541" width="5" height="1" fill="#808080"/>
<rect x="35" y="559" width="5" height="1" fill="#808080"/>
<rect x="35" y="577" width="5" height="1" fill="#808080"/>
<rect x="35" y="596" width="5" height="1" fill="#808080"/>
<rect x="35" y="614" width="5" height="1" fill="#808080"/>
<rect x="35" y="632" width="5" height="1" fill="#808080"/>
<rect x="35" y="650" width="5" height="1" fill="#808080"/>
<rect x="35" y="668" width="5" height="1" fill="#808080"/>
<rect x="35" y="687" width="5" height="1" fill="#808080"/>
<rect x="35" y="705" width="5" height="1" fill="#808080"/>
<rect x="35" y="723" width="5" height="1" fill="#808080"/>
<rect x="35" y="742" width="5" height="1" fill="#808080"/>
<rect x="35" y="760" width="5" height="1" fill="#808080"/>
<rect x="35" y="778" width="5" height="1" fill="#808080"/>
<rect x="77" y="48" width="1" height="731" fill="#808080"/>
<rect x="73" y="48" width="9" height="1" fill="#808080"/>
<rect x="73" y="778" width="9" height="1" fill="#808080"/>
<rect x="72" y="48" width="5" height="1" fill="#808080"/>
<rect x="72" y="83" width="5" height="1" fill="#808080"/>
<rect x="72" y="118" width="5" height="1" fill="#808080"/>
<rect x="72" y="152" width="5" height="1" fill="#808080"/>
<rect x="72" y="187" width="5" height="1" fill="#808080"/>
<rect x="72" y="222" width="5" height="1" fill="#808080"/>
<rect x="72" y="257" width="5" height="1" fill="#808080"/>
<rect x="72" y="291" width="5" height="1" fill="#808080"/>
<rect x="72" y="326" width="5" height="1" fill="#808080"/>
<rect x="72" y="361" width="5" height="1" fill="#808080"/>
<rect x="72" y="396" width="5" height="1" fill="#808080"/>
<rect x="72" y="430" width="5" height="1" fill="#808080"/>
<rect x="72" y="465" width="5" height="1" fill="#808080"/>
<rect x="72" y="500" width="5" height="1" fill="#808080"/>
<rect x="72" y="535" width="5" height="1" fill="#808080"/>
<rect x="72" y="569" width="5" height="1" fill="#808080"/>
<rect x="72" y="604" width="5" height="1" fill="#808080"/>
<rect x="72" y="639" width="5" height="1" fill="#808080"/>
<rect x="72" y="674" width="5" height="1" fill="#808080"/>
<rect x="72" y="708" width="5" height="1" fill="#808080"/>
<rect x="72" y="743" width="5" height="1" fill="#808080"/>
<rect x="72" y="778" width="5" height="1" fill="#808080"/>
<rect x="114" y="48" width="1" height="731" fill="#808080"/>
<rect x="110" y="48" width="9" height="1" fill="#808080"/>
<rect x="110" y="778" width="9" height="1" fill="#808080"/>
<rect x="109" y="48" width="5" height="1" fill="#808080"/>
<rect x="109" y="72" width="5" height="1" fill="#808080"/>
<rect x="109" y="97" width="5" height="1" fill="#808080"/>
<rect x="109" y="121" width="5" height="1" fill="#808080"/>
<rect x="109" y="145" width="5" height="1" fill="#808080"/>
<rect x="109" y="170" width="5" height="1" fill="#808080"/>
<rect x="109" y="194" width="5" height="1" fill="#808080"/>
<rect x="109" y="218" width="5" height="1" fill="#808080"/>
<rect x="109" y="243" width="5" height="1" fill="#808080"/>
<rect x="109" y="267" width="5" height="1" fill="#808080"/>
<rect x="109" y="291" width="5" height="1" fill="#808080"/>
<rect x="109" y="316" width="5" height="1" fill="#808080"/>
<rect x="109" y="340" width="5" height="1" fill="#808080"/>
<rect x="109" y="364" width="5" height="1" fill="#808080"/>
<rect x="109" y="389" width="5" height="1" fill="#808080"/>
<rect x="109" y="413" width="5" height="1" fill="#808080"/>
<rect x="109" y="437" width="5" height="1" fill="#808080"/>
<rect x="109" y="462" width="5" height="1" fill="#808080"/>
<rect x="109" y="486" width="5" height="1" fill="#808080"/>
<rect x="109" y="510" width="5" height="1" fill="#808080"/>
<rect x="109" y="535" width="5" height="1" fill="#808080"/>
<rect x="109" y="559" width="5" height="1" fill="#808080"/>
<rect x="109" y="583" width="5" height="1" fill="#808080"/>
<rect x="109" y="608" width="5" height="1" fill="#808080"/>
<rect x="109" y="632" width="5" height="1" fill="#808080"/>
<rect x="109" y="656" width="5" height="1" fill="#808080"/>
<rect x="109" y="681" width="5" height="1" fill="#808080"/>
<rect x="109" y="705" width="5" height="1" fill="#808080"/>
<rect x="109" y="729" width="5" height="1" fill="#808080"/>
<rect x="109" y="754" width="5" height="1" fill="#808080"/>
<rect x="109" y="778" width="5" height="1" fill="#808080"/>
<rect x="146" y="48" width="4" height="1" fill="#808080"/>
<rect x="146" y="121" width="4" height="1" fill="#808080"/>
<rect x="146" y="194" width="4" height="1" fill="#808080"/>
<rect x="146" y="267" width="4" height="1" fill="#808080"/>
<rect x="146" y="340" width="4" height="1" fill="#808080"/>
<rect x="146" y="413" width="4" height="1" fill="#808080"/>
<rect x="146" y="486" width="4" height="1" fill="#808080"/>
<rect x="146" y="559" width="4" height="1" fill="#808080"/>
<rect x="146" y="632" width="4" height="1" fill="#808080"/>
<rect x="146" y="705" width="4" height="1" fill="#808080"/>
<rect x="146" y="778" width="4" height="1" fill="#808080"/>
<rect x="1572" y="48" width="5" height="1" fill="#808080"/>
<rect x="1572" y="84" width="5" height="1" fill="#808080"/>
<rect x="1572" y="121" width="5" height="1" fill="#808080"/>
<rect x="1572" y="158" width="5" height="1" fill="#808080"/>
<rect x="1572" y="194" width="5" height="1" fill="#808080"/>
<rect x="1572" y="230" width="5" height="1" fill="#808080"/>
<rect x="1572" y="267" width="5" height="1" fill="#808080"/>
<rect x="1572" y="304" width="5" height="1" fill="#808080"/>
<rect x="1572" y="340" width="5" height="1" fill="#808080"/>
<rect x="1572" y="376" width="5" height="1" fill="#808080"/>
<rect x="1572" y="413" width="5" height="1" fill="#808080"/>
<rect x="1572" y="450" width="5" height="1" fill="#808080"/>
<rect x="1572" y="486" width="5" height="1" fill="#808080"/>
<rect x="1572" y="522" width="5" height="1" fill="#808080"/>
<rect x="1572" y="559" width="5" height="1" fill="#808080"/>
<rect x="1572" y="596" width="5" height="1" fill="#808080"/>
<rect x="1572" y="632" width="5" height="1" fill="#808080"/>
<rect x="1572" y="668" width="5" height="1" fill="#808080"/>
<rect x="1572" y="705" width="5" height="1" fill="#808080"/>
<rect x="1572" y="742" width="5" height="1" fill="#808080"/>
<rect x="1572" y="778" width="5" height="1" fill="#808080"/>
<rect x="1608" y="48" width="1" height="731" fill="#808080"/>
<rect x="1604" y="778" width="9" height="1" fill="#808080"/>
<rect x="1608" y="778" width="5" height="1" fill="#808080"/>
<rect x="1608" y="749" width="5" height="1" fill="#808080"/>
<rect x="1608" y="720" width="5" height="1" fill="#808080"/>
<rect x="1608" y="690" width="5" height="1" fill="#808080"/>
<rect x="1608" y="661" width="5" height="1" fill="#808080"/>
<rect x="1608" y="632" width="5" height="1" fill="#808080"/>
<rect x="1608" y="603" width="5" height="1" fill="#808080"/>
<rect x="1608" y="574" width="5" height="1" fill="#808080"/>
<rect x="1608" y="544" width="5" height="1" fill="#808080"/>
<rect x="1608" y="515" width="5" height="1" fill="#808080"/>
<rect x="1608" y="486" width="5" height="1" fill="#808080"/>
<rect x="1608" y="457" width="5" height="1" fill="#808080"/>
<rect x="1608" y="428" width="5" height="1" fill="#808080"/>
<rect x="1608" y="398" width="5" height="1" fill="#808080"/>
<rect x="1608" y="369" width="5" height="1" fill="#808080"/>
<rect x="1608" y="340" width="5" height="1" fill="#808080"/>
<rect x="1608" y="311" width="5" height="1" fill="#808080"/>
<rect x="1608" y="282" width="5" height="1" fill="#808080"/>
<rect x="1608" y="252" width="5" height="1" fill="#808080"/>
<rect x="1608" y="223" width="5" height="1" fill="#808080"/>
<rect x="1608" y="194" width="5" height="1" fill="#808080"/>
<rect x="1608" y="165" width="5" height="1" fill="#808080"/>
<rect x="1608" y="136" width="5" height="1" fill="#808080"/>
<rect x="1608" y="106" width="5" height="1" fill="#808080"/>
<rect x="1608" y="77" width="5" height="1" fill="#808080"/>
<rect x="1604" y="77" width="9" height="1" fill="#808080"/>
<rect x="1645" y="48" width="1" height="731" fill="#808080"/>
<rect x="1641" y="48" width="9" height="1" fill="#808080"/>
<rect x="1641" y="778" width="9" height="1" fill="#808080"/>
<rect x="1645" y="778" width="5" height="1" fill="#808080"/>
<rect x="1645" y="717" width="5" height="1" fill="#808080"/>
<rect x="1645" y="656" width="5" height="1" fill="#808080"/>
<rect x="1645" y="596" width="5" height="1" fill="#808080"/>
<rect x="1645" y="535" width="5" height="1" fill="#808080"/>
<rect x="1645" y="474" width="5" height="1" fill="#808080"/>
<rect x="1645" y="413" width="5" height="1" fill="#808080"/>
<rect x="1645" y="352" width="5" height="1" fill="#808080"/>
<rect x="1645" y="291" width="5" height="1" fill="#808080"/>
<rect x="1645" y="230" width="5" height="1" fill="#808080"/>
<rect x="1645" y="170" width="5" height="1" fill="#808080"/>
<rect x="1645" y="109" width="5" height="1" fill="#808080"/>
<rect x="1645" y="48" width="5" height="1" fill="#808080"/>
</g>
<rect x="185.0" y="777" width="1.4" height="1" fill="#0000ff"/>
<rect x="193.5" y="777" width="1.4" height="1" fill="#0000ff"/>
<rect x="202.0" y="777" width="1.4" height="1" fill="#0000ff"/>
<rect x="210.5" y="777" width="1.4" height="1" fill="#0000ff"/>
<rect x="219.0" y="777" width="1.4" height="1" fill="#0000ff"/>
<rect x="227.5" y="777" width="1.4" height="1" fill="#0000ff"/>
<rect x="236.0" y="777" width="1.4" height="1" fill="#0000ff"/>
<rect x="244.5" y="777" width="1.4" height="1" fill="#0000ff"/>
<rect x="253.0" y="777" width="1.4" height="1" fill="#0000ff"/>
<rect x="261.5" y="777" width="1.4" height="1" fill="#0000ff"/>
<rect x="270.0" y="777" width="1.4" height="1" fill="#0000ff"/>
<rect x="278.5" y="777" width="1.4" height="1" fill="#0000ff"/>
<rect x="287.0" y="777" width="1.4" height="1" fill="#0000ff"/>
<rect x="295.5" y="777" width="1.4" height="1" fill="#0000ff"/>
<rect x="304.0" y="777" width="1.4" height="1" fill="#0000ff"/>
<rect x="312.5" y="777" width="1.4" height="1" fill="#0000ff"/>
<rect x="321.0" y="777" width="1.4" height="1" fill="#0000ff"/>
<rect x="329.5" y="777" width="1.4" height="1" fill="#0000ff"/>
<rect x="338.0" y="777" width="1.4" height="1" fill="#0000ff"/>
<rect x="346.5" y="777" width="1.4" height="1" fill="#0000ff"/>
<rect x="355.0" y="777" width="1.4" height="1" fill="#0000ff"/>
<rect x="363.5" y="777" width="1.4" height="1" fill="#0000ff"/>
<rect x="372.0" y="777" width="1.4" height="1" fill="#0000ff"/>
<rect x="380.5" y="777" width="1.4" height="1" fill="#0000ff"/>
<rect x="389.0" y="777" width="1.4" height="1" fill="#0000ff"/>
<rect x="397.5" y="777" width="1.4" height="1" fill="#0000ff"/>
<rect x="406.0" y="777" width="1.4" height="1" fill="#0000ff"/>
<rect x="414.5" y="777" width="1.4" height="1" fill="#0000ff"/>
<rect x="423.0" y="777" width="1.4" height="1" fill="#0000ff"/>
<rect x="431.5" y="777" width="1.4" height="1" fill="#0000ff"/>
<rect x="440.0" y="777" width="1.4" height="1" fill="#0000ff"/>
<rect x="448.5" y="777" width="1.4" height="1" fill="#0000ff"/>
<rect x="457.0" y="777" width="1.4" height="1" fill="#0000ff"/>
<rect x="465.5" y="777" width="1.4" height="1" fill="#0000ff"/>
<rect x="474.0" y="777" width="1.4" height="1" fill="#0000ff"/>
<rect x="482.5" y="777" width="1.4" height="1" fill="#0000ff"/>
<rect x="491.0" y="777" width="1.4" height="1" fill="#0000ff"/>
<rect x="499.5" y="777" width="1.4" height="1" fill="#0000ff"/>
<rect x="508.0" y="777" width="1.4" height="1" fill="#0000ff"/>
<rect x="516.5" y="777" width="1.4" height="1" fill="#0000ff"/>
<rect x="525.0" y="777" width="1.4" height="1" fill="#0000ff"/>
<rect x="533.5" y="777" width="1.4" height="1" fill="#0000ff"/>
<rect x="542.0" y="777" width="1.4" height="1" fill="#0000ff"/>
<rect x="550.5" y="777" width="1.4" height="1" fill="#0000ff"/>
<rect x="559.0" y="777" width="1.4" height="1" fill="#0000ff"/>
<rect x="567.5" y="777" width="1.4" height="1" fill="#0000ff"/>
<rect x="576.0" y="777" width="1.4" height="1" fill="#0000ff"/>
<rect x="584.4" y="777" width="1.4" height="1" fill="#0000ff"/>
<rect x="592.9" y="777" width="1.4" height="1" fill="#0000ff"/>
<rect x="601.4" y="777" width="1.4" height="1" fill="#0000ff"/>
<rect x="609.9" y="777" width="1.4" height="1" fill="#0000ff"/>
<rect x="618.4" y="777" width="1.4" height="1" fill="#0000ff"/>
<rect x="626.9" y="777" width="1.4" height="1" fill="#0000ff"/>
<rect x="635.4" y="777" width="1.4" height="1" fill="#0000ff"/>
<rect x="643.9" y="777" width="1.4" height="1" fill="#0000ff"/>
<rect x="652.4" y="777" width="1.4" height="1" fill="#0000ff"/>
<rect x="660.9" y="777" width="1.4" height="1" fill="#0000ff"/>
<rect x="669.4" y="777" width="1.4" height="1" fill="#0000ff"/>
<rect x="677.9" y="777" width="1.4" height="1" fill="#0000ff"/>
<rect x="686.4" y="777" width="1.4" height="1" fill="#0000ff"/>
<rect x="694.9" y="777" width="1.4" height="1" fill="#0000ff"/>
<rect x="703.4" y="777" width="1.4" height="1" fill="#0000ff"/>
<rect x="711.9" y="777" width="1.4" height="1" fill="#0000ff"/>
<rect x="720.4" y="777" width="1.4" height="1" fill="#0000ff"/>
<rect x="728.9" y="777" width="1.4" height="1" fill="#0000ff"/>
<rect x="737.4" y="777" width="1.4" height="1" fill="#0000ff"/>
<rect x="745.9" y="777" width="1.4" height="1" fill="#0000ff"/>
<rect x="754.4" y="777" width="1.4" height="1" fill="#0000ff"/>
<rect x="762.9" y="777" width="1.4" height="1" fill="#0000ff"/>
<rect x="771.4" y="777" width="1.4" height="1" fill="#0000ff"/>
<rect x="779.9" y="777" width="1.4" height="1" fill="#0000ff"/>
<rect x="788.4" y="777" width="1.4" height="1" fill="#0000ff"/>
<rect x="796.9" y="777" width="1.4" height="1" fill="#0000ff"/>
<rect x="805.4" y="777" width="1.4" height="1" fill="#0000ff"/>
<rect x="813.9" y="777" width="1.4" height="1" fill="#0000ff"/>
<rect x="822.4" y="777" width="1.4" height="1" fill="#0000ff"/>
<rect x="830.9" y="777" width="1.4" height="1" fill="#0000ff"/>
<rect x="839.4" y="777" width="1.4" height="1" fill="#0000ff"/>
<rect x="847.9" y="777" width="1.4" height="1" fill="#0000ff"/>
<rect x="856.4" y="777" width="1.4" height="1" fill="#0000ff"/>
<rect x="864.9" y="777" width="1.4" height="1" fill="#0000ff"/>
<rect x="873.4" y="777" width="1.4" height="1" fill="#0000ff"/>
<rect x="881.9" y="777" width="1.4" height="1" fill="#0000ff"/>
<rect x="890.4" y="777" width="1.4" height="1" fill="#0000ff"/>
<rect x="898.9" y="777" width="1.4" height="1" fill="#0000ff"/>
<rect x="907.4" y="777" width="1.4" height="1" fill="#0000ff"/>
<rect x="915.9" y="777" width="1.4" height="1" fill="#0000ff"/>
<rect x="924.4" y="777" width="1.4" height="1" fill="#0000ff"/>
<rect x="932.9" y="777" width="1.4" height="1" fill="#0000ff"/>
<rect x="941.4" y="777" width="1.4" height="1" fill="#0000ff"/>
<rect x="949.9" y="777" width="1.4" height="1" fill="#0000ff"/>
<rect x="958.4" y="777" width="1.4" height="1" fill="#0000ff"/>
<rect x="966.9" y="777" width="1.4" height="1" fill="#0000ff"/>
<rect x="1000.9" y="777" width="1.4" height="1" fill="#0000ff"/>
<rect x="1009.4" y="777" width="1.4" height="1" fill="#0000ff"/>
<rect x="1017.9" y="777" width="1.4" height="1" fill="#0000ff"/>
<rect x="1026.4" y="777" width="1.4" height="1" fill="#0000ff"/>
<rect x="1034.9" y="777" width="1.4" height="1" fill="#0000ff"/>
<rect x="1043.4" y="777" width="1.4" height="1" fill="#0000ff"/>
<rect x="1051.9" y="777" width="1.4" height="1" fill="#0000ff"/>
<rect x="1060.4" y="777" width="1.4" height="1" fill="#0000ff"/>
<rect x="1068.9" y="777" width="1.4" height="1" fill="#0000ff"/>
<rect x="1077.4" y="777" width="1.4" height="1" fill="#0000ff"/>
<rect x="1085.9" y="777" width="1.4" height="1" fill="#0000ff"/>
<rect x="1094.4" y="777" width="1.4" height="1" fill="#0000ff"/>
<rect x="1102.9" y="777" width="1.4" height="1" fill="#0000ff"/>
<rect x="1111.4" y="777" width="1.4" height="1" fill="#0000ff"/>
<rect x="1119.9" y="777" width="1.4" height="1" fill="#0000ff"/>
<rect x="1128.4" y="777" width="1.4" height="1" fill="#0000ff"/>
<rect x="1136.9" y="777" width="1.4" height="1" fill="#0000ff"/>
<rect x="1145.4" y="777" width="1.4" height="1" fill="#0000ff"/>
<rect x="1153.9" y="777" width="1.4" height="1" fill="#0000ff"/>
<rect x="1162.4" y="777" width="1.4" height="1" fill="#0000ff"/>
<rect x="1170.9" y="777" width="1.4" height="1" fill="#0000ff"/>
<rect x="1179.4" y="777" width="1.4" height="1" fill="#0000ff"/>
<rect x="1187.9" y="777" width="1.4" height="1" fill="#0000ff"/>
<rect x="1196.4" y="777" width="1.4" height="1" fill="#0000ff"/>
<rect x="1204.9" y="777" width="1.4" height="1" fill="#0000ff"/>
<rect x="1213.4" y="777" width="1.4" height="1" fill="#0000ff"/>
<rect x="1221.9" y="777" width="1.4" height="1" fill="#0000ff"/>
<rect x="1230.4" y="777" width="1.4" height="1" fill="#0000ff"/>
<rect x="1238.9" y="777" width="1.4" height="1" fill="#0000ff"/>
<rect x="1247.4" y="777" width="1.4" height="1" fill="#0000ff"/>
<rect x="1255.9" y="777" width="1.4" height="1" fill="#0000ff"/>
<rect x="1264.4" y="777" width="1.4" height="1" fill="#0000ff"/>
<rect x="1272.9" y="777" width="1.4" height="1" fill="#0000ff"/>
<rect x="1281.4" y="777" width="1.4" height="1" fill="#0000ff"/>
<rect x="1289.9" y="777" width="1.4" height="1" fill="#0000ff"/>
<rect x="1298.4" y="777" width="1.4" height="1" fill="#0000ff"/>
<rect x="1306.9" y="777" width="1.4" height="1" fill="#0000ff"/>
<rect x="1315.4" y="777" width="1.4" height="1" fill="#0000ff"/>
<rect x="1323.9" y="777" width="1.4" height="1" fill="#0000ff"/>
<rect x="1332.4" y="777" width="1.4" height="1" fill="#0000ff"/>
<rect x="1340.9" y="777" width="1.4" height="1" fill="#0000ff"/>
<rect x="1349.4" y="777" width="1.4" height="1" fill="#0000ff"/>
<rect x="1357.9" y="777" width="1.4" height="1" fill="#0000ff"/>
<rect x="1366.4" y="777" width="1.4" height="1" fill="#0000ff"/>
<rect x="1374.9" y="777" width="1.4" height="1" fill="#0000ff"/>
<rect x="1383.4" y="777" width="1.4" height="1" fill="#0000ff"/>
<rect x="1391.9" y="777" width="1.4" height="1" fill="#0000ff"/>
<rect x="1400.4" y="777" width="1.4" height="1" fill="#0000ff"/>
<rect x="1408.9" y="777" width="1.4" height="1" fill="#0000ff"/>
<rect x="1417.4" y="777" width="1.4" height="1" fill="#0000ff"/>
<rect x="1425.9" y="777" width="1.4" height="1" fill="#0000ff"/>
<rect x="1434.3" y="777" width="1.4" height="1" fill="#0000ff"/>
<rect x="1442.8" y="777" width="1.4" height="1" fill="#0000ff"/>
<rect x="1451.3" y="777" width="1.4" height="1" fill="#0000ff"/>
<rect x="1459.8" y="777" width="1.4" height="1" fill="#0000ff"/>
<rect x="1468.3" y="777" width="1.4" height="1" fill="#0000ff"/>
<rect x="1476.8" y="777" width="1.4" height="1" fill="#0000ff"/>
<rect x="1485.3" y="777" width="1.4" height="1" fill="#0000ff"/>
<rect x="1493.8" y="777" width="1.4" height="1" fill="#0000ff"/>
<rect x="1502.3" y="777" width="1.4" height="1" fill="#0000ff"/>
<rect x="1510.8" y="777" width="1.4" height="1" fill="#0000ff"/>
<rect x="1519.3" y="777" width="1.4" height="1" fill="#0000ff"/>
<rect x="1527.8" y="777" width="1.4" height="1" fill="#0000ff"/>
<rect x="1536.3" y="777" width="1.4" height="1" fill="#0000ff"/>
<rect x="1544.8" y="777" width="1.4" height="1" fill="#0000ff"/>
<rect x="1553.3" y="777" width="1.4" height="1" fill="#0000ff"/>
<rect x="1561.8" y="777" width="1.4" height="1" fill="#0000ff"/>
<rect x="1570.3" y="777" width="1.4" height="1" fill="#0000ff"/>
<text x="20.0" y="36.5" font-size="12" fill="#ff0000" text-anchor="start" textLength="10.5" lengthAdjust="spacingAndGlyphs" xml:space="preserve">°C</text>
<text x="48.5" y="36.5" font-size="12" fill="#000" text-anchor="start" textLength="18.7" lengthAdjust="spacingAndGlyphs" xml:space="preserve">hPa</text>
<text x="79.5" y="36.5" font-size="12" fill="#008000" text-anchor="start" textLength="24.5" lengthAdjust="spacingAndGlyphs" xml:space="preserve">km/h</text>
<text transform="translate(135.5,36.5) scale(0.86,1)" font-size="12" fill="#d8d800" text-anchor="start" xml:space="preserve">h</text>
<text transform="translate(1572.0,36.5) scale(0.86,1)" font-size="12" fill="#404040" text-anchor="start" xml:space="preserve">%</text>
<text x="1608.5" y="36.5" font-size="12" fill="#0000ff" text-anchor="start" textLength="17.4" lengthAdjust="spacingAndGlyphs" xml:space="preserve">l/m²</text>
<text transform="translate(1646.0,36.5) scale(0.86,1)" font-size="12" fill="#008000" text-anchor="start" xml:space="preserve">°</text>
<text transform="translate(34.0,53.4) scale(0.86,1)" font-size="12" fill="#ff0000" text-anchor="end" xml:space="preserve">25.0</text>
<text transform="translate(34.0,71.7) scale(0.86,1)" font-size="12" fill="#ff0000" text-anchor="end" xml:space="preserve">24.0</text>
<text transform="translate(34.0,89.9) scale(0.86,1)" font-size="12" fill="#ff0000" text-anchor="end" xml:space="preserve">23.0</text>
<text transform="translate(34.0,108.2) scale(0.86,1)" font-size="12" fill="#ff0000" text-anchor="end" xml:space="preserve">22.0</text>
<text transform="translate(34.0,126.4) scale(0.86,1)" font-size="12" fill="#ff0000" text-anchor="end" xml:space="preserve">21.0</text>
<text transform="translate(34.0,144.7) scale(0.86,1)" font-size="12" fill="#ff0000" text-anchor="end" xml:space="preserve">20.0</text>
<text transform="translate(34.0,162.9) scale(0.86,1)" font-size="12" fill="#ff0000" text-anchor="end" xml:space="preserve">19.0</text>
<text transform="translate(34.0,181.2) scale(0.86,1)" font-size="12" fill="#ff0000" text-anchor="end" xml:space="preserve">18.0</text>
<text transform="translate(34.0,199.4) scale(0.86,1)" font-size="12" fill="#ff0000" text-anchor="end" xml:space="preserve">17.0</text>
<text transform="translate(34.0,217.7) scale(0.86,1)" font-size="12" fill="#ff0000" text-anchor="end" xml:space="preserve">16.0</text>
<text transform="translate(34.0,235.9) scale(0.86,1)" font-size="12" fill="#ff0000" text-anchor="end" xml:space="preserve">15.0</text>
<text transform="translate(34.0,254.2) scale(0.86,1)" font-size="12" fill="#ff0000" text-anchor="end" xml:space="preserve">14.0</text>
<text transform="translate(34.0,272.4) scale(0.86,1)" font-size="12" fill="#ff0000" text-anchor="end" xml:space="preserve">13.0</text>
<text transform="translate(34.0,290.6) scale(0.86,1)" font-size="12" fill="#ff0000" text-anchor="end" xml:space="preserve">12.0</text>
<text transform="translate(34.0,308.9) scale(0.86,1)" font-size="12" fill="#ff0000" text-anchor="end" xml:space="preserve">11.0</text>
<text transform="translate(34.0,327.1) scale(0.86,1)" font-size="12" fill="#ff0000" text-anchor="end" xml:space="preserve">10.0</text>
<text transform="translate(34.0,345.4) scale(0.86,1)" font-size="12" fill="#ff0000" text-anchor="end" xml:space="preserve">9.0</text>
<text transform="translate(34.0,363.6) scale(0.86,1)" font-size="12" fill="#ff0000" text-anchor="end" xml:space="preserve">8.0</text>
<text transform="translate(34.0,381.9) scale(0.86,1)" font-size="12" fill="#ff0000" text-anchor="end" xml:space="preserve">7.0</text>
<text transform="translate(34.0,400.1) scale(0.86,1)" font-size="12" fill="#ff0000" text-anchor="end" xml:space="preserve">6.0</text>
<text transform="translate(34.0,418.4) scale(0.86,1)" font-size="12" fill="#ff0000" text-anchor="end" xml:space="preserve">5.0</text>
<text transform="translate(34.0,436.6) scale(0.86,1)" font-size="12" fill="#ff0000" text-anchor="end" xml:space="preserve">4.0</text>
<text transform="translate(34.0,454.9) scale(0.86,1)" font-size="12" fill="#ff0000" text-anchor="end" xml:space="preserve">3.0</text>
<text transform="translate(34.0,473.1) scale(0.86,1)" font-size="12" fill="#ff0000" text-anchor="end" xml:space="preserve">2.0</text>
<text transform="translate(34.0,491.4) scale(0.86,1)" font-size="12" fill="#ff0000" text-anchor="end" xml:space="preserve">1.0</text>
<text transform="translate(34.0,509.6) scale(0.86,1)" font-size="12" fill="#ff0000" text-anchor="end" xml:space="preserve">0.0</text>
<text transform="translate(34.0,527.9) scale(0.86,1)" font-size="12" fill="#ff0000" text-anchor="end" xml:space="preserve">-1.0</text>
<text transform="translate(34.0,546.1) scale(0.86,1)" font-size="12" fill="#ff0000" text-anchor="end" xml:space="preserve">-2.0</text>
<text transform="translate(34.0,564.4) scale(0.86,1)" font-size="12" fill="#ff0000" text-anchor="end" xml:space="preserve">-3.0</text>
<text transform="translate(34.0,582.6) scale(0.86,1)" font-size="12" fill="#ff0000" text-anchor="end" xml:space="preserve">-4.0</text>
<text transform="translate(34.0,600.9) scale(0.86,1)" font-size="12" fill="#ff0000" text-anchor="end" xml:space="preserve">-5.0</text>
<text transform="translate(34.0,619.1) scale(0.86,1)" font-size="12" fill="#ff0000" text-anchor="end" xml:space="preserve">-6.0</text>
<text transform="translate(34.0,637.4) scale(0.86,1)" font-size="12" fill="#ff0000" text-anchor="end" xml:space="preserve">-7.0</text>
<text transform="translate(34.0,655.6) scale(0.86,1)" font-size="12" fill="#ff0000" text-anchor="end" xml:space="preserve">-8.0</text>
<text transform="translate(34.0,673.9) scale(0.86,1)" font-size="12" fill="#ff0000" text-anchor="end" xml:space="preserve">-9.0</text>
<text transform="translate(34.0,692.1) scale(0.86,1)" font-size="12" fill="#ff0000" text-anchor="end" xml:space="preserve">-10.0</text>
<text transform="translate(34.0,710.4) scale(0.86,1)" font-size="12" fill="#ff0000" text-anchor="end" xml:space="preserve">-11.0</text>
<text transform="translate(34.0,728.6) scale(0.86,1)" font-size="12" fill="#ff0000" text-anchor="end" xml:space="preserve">-12.0</text>
<text transform="translate(34.0,746.9) scale(0.86,1)" font-size="12" fill="#ff0000" text-anchor="end" xml:space="preserve">-13.0</text>
<text transform="translate(34.0,765.1) scale(0.86,1)" font-size="12" fill="#ff0000" text-anchor="end" xml:space="preserve">-14.0</text>
<text transform="translate(34.0,783.4) scale(0.86,1)" font-size="12" fill="#ff0000" text-anchor="end" xml:space="preserve">-15.0</text>
<text transform="translate(70.5,53.4) scale(0.86,1)" font-size="12" fill="#000" text-anchor="end" xml:space="preserve">1032</text>
<text transform="translate(70.5,88.2) scale(0.86,1)" font-size="12" fill="#000" text-anchor="end" xml:space="preserve">1030</text>
<text transform="translate(70.5,122.9) scale(0.86,1)" font-size="12" fill="#000" text-anchor="end" xml:space="preserve">1028</text>
<text transform="translate(70.5,157.7) scale(0.86,1)" font-size="12" fill="#000" text-anchor="end" xml:space="preserve">1026</text>
<text transform="translate(70.5,192.4) scale(0.86,1)" font-size="12" fill="#000" text-anchor="end" xml:space="preserve">1024</text>
<text transform="translate(70.5,227.2) scale(0.86,1)" font-size="12" fill="#000" text-anchor="end" xml:space="preserve">1022</text>
<text transform="translate(70.5,262.0) scale(0.86,1)" font-size="12" fill="#000" text-anchor="end" xml:space="preserve">1020</text>
<text transform="translate(70.5,296.7) scale(0.86,1)" font-size="12" fill="#000" text-anchor="end" xml:space="preserve">1018</text>
<text transform="translate(70.5,331.5) scale(0.86,1)" font-size="12" fill="#000" text-anchor="end" xml:space="preserve">1016</text>
<text transform="translate(70.5,366.3) scale(0.86,1)" font-size="12" fill="#000" text-anchor="end" xml:space="preserve">1014</text>
<text transform="translate(70.5,401.0) scale(0.86,1)" font-size="12" fill="#000" text-anchor="end" xml:space="preserve">1012</text>
<text transform="translate(70.5,435.8) scale(0.86,1)" font-size="12" fill="#000" text-anchor="end" xml:space="preserve">1010</text>
<text transform="translate(70.5,470.5) scale(0.86,1)" font-size="12" fill="#000" text-anchor="end" xml:space="preserve">1008</text>
<text transform="translate(70.5,505.3) scale(0.86,1)" font-size="12" fill="#000" text-anchor="end" xml:space="preserve">1006</text>
<text transform="translate(70.5,540.1) scale(0.86,1)" font-size="12" fill="#000" text-anchor="end" xml:space="preserve">1004</text>
<text transform="translate(70.5,574.8) scale(0.86,1)" font-size="12" fill="#000" text-anchor="end" xml:space="preserve">1002</text>
<text transform="translate(70.5,609.6) scale(0.86,1)" font-size="12" fill="#000" text-anchor="end" xml:space="preserve">1000</text>
<text transform="translate(70.5,644.4) scale(0.86,1)" font-size="12" fill="#000" text-anchor="end" xml:space="preserve">998</text>
<text transform="translate(70.5,679.1) scale(0.86,1)" font-size="12" fill="#000" text-anchor="end" xml:space="preserve">996</text>
<text transform="translate(70.5,713.9) scale(0.86,1)" font-size="12" fill="#000" text-anchor="end" xml:space="preserve">994</text>
<text transform="translate(70.5,748.6) scale(0.86,1)" font-size="12" fill="#000" text-anchor="end" xml:space="preserve">992</text>
<text transform="translate(70.5,783.4) scale(0.86,1)" font-size="12" fill="#000" text-anchor="end" xml:space="preserve">990</text>
<text transform="translate(107.5,53.4) scale(0.86,1)" font-size="12" fill="#008000" text-anchor="end" xml:space="preserve">60.0</text>
<text transform="translate(107.5,77.7) scale(0.86,1)" font-size="12" fill="#008000" text-anchor="end" xml:space="preserve">58.0</text>
<text transform="translate(107.5,102.1) scale(0.86,1)" font-size="12" fill="#008000" text-anchor="end" xml:space="preserve">56.0</text>
<text transform="translate(107.5,126.4) scale(0.86,1)" font-size="12" fill="#008000" text-anchor="end" xml:space="preserve">54.0</text>
<text transform="translate(107.5,150.7) scale(0.86,1)" font-size="12" fill="#008000" text-anchor="end" xml:space="preserve">52.0</text>
<text transform="translate(107.5,175.1) scale(0.86,1)" font-size="12" fill="#008000" text-anchor="end" xml:space="preserve">50.0</text>
<text transform="translate(107.5,199.4) scale(0.86,1)" font-size="12" fill="#008000" text-anchor="end" xml:space="preserve">48.0</text>
<text transform="translate(107.5,223.7) scale(0.86,1)" font-size="12" fill="#008000" text-anchor="end" xml:space="preserve">46.0</text>
<text transform="translate(107.5,248.1) scale(0.86,1)" font-size="12" fill="#008000" text-anchor="end" xml:space="preserve">44.0</text>
<text transform="translate(107.5,272.4) scale(0.86,1)" font-size="12" fill="#008000" text-anchor="end" xml:space="preserve">42.0</text>
<text transform="translate(107.5,296.7) scale(0.86,1)" font-size="12" fill="#008000" text-anchor="end" xml:space="preserve">40.0</text>
<text transform="translate(107.5,321.1) scale(0.86,1)" font-size="12" fill="#008000" text-anchor="end" xml:space="preserve">38.0</text>
<text transform="translate(107.5,345.4) scale(0.86,1)" font-size="12" fill="#008000" text-anchor="end" xml:space="preserve">36.0</text>
<text transform="translate(107.5,369.7) scale(0.86,1)" font-size="12" fill="#008000" text-anchor="end" xml:space="preserve">34.0</text>
<text transform="translate(107.5,394.1) scale(0.86,1)" font-size="12" fill="#008000" text-anchor="end" xml:space="preserve">32.0</text>
<text transform="translate(107.5,418.4) scale(0.86,1)" font-size="12" fill="#008000" text-anchor="end" xml:space="preserve">30.0</text>
<text transform="translate(107.5,442.7) scale(0.86,1)" font-size="12" fill="#008000" text-anchor="end" xml:space="preserve">28.0</text>
<text transform="translate(107.5,467.1) scale(0.86,1)" font-size="12" fill="#008000" text-anchor="end" xml:space="preserve">26.0</text>
<text transform="translate(107.5,491.4) scale(0.86,1)" font-size="12" fill="#008000" text-anchor="end" xml:space="preserve">24.0</text>
<text transform="translate(107.5,515.7) scale(0.86,1)" font-size="12" fill="#008000" text-anchor="end" xml:space="preserve">22.0</text>
<text transform="translate(107.5,540.1) scale(0.86,1)" font-size="12" fill="#008000" text-anchor="end" xml:space="preserve">20.0</text>
<text transform="translate(107.5,564.4) scale(0.86,1)" font-size="12" fill="#008000" text-anchor="end" xml:space="preserve">18.0</text>
<text transform="translate(107.5,588.7) scale(0.86,1)" font-size="12" fill="#008000" text-anchor="end" xml:space="preserve">16.0</text>
<text transform="translate(107.5,613.1) scale(0.86,1)" font-size="12" fill="#008000" text-anchor="end" xml:space="preserve">14.0</text>
<text transform="translate(107.5,637.4) scale(0.86,1)" font-size="12" fill="#008000" text-anchor="end" xml:space="preserve">12.0</text>
<text transform="translate(107.5,661.7) scale(0.86,1)" font-size="12" fill="#008000" text-anchor="end" xml:space="preserve">10.0</text>
<text transform="translate(107.5,686.1) scale(0.86,1)" font-size="12" fill="#008000" text-anchor="end" xml:space="preserve">8.0</text>
<text transform="translate(107.5,710.4) scale(0.86,1)" font-size="12" fill="#008000" text-anchor="end" xml:space="preserve">6.0</text>
<text transform="translate(107.5,734.7) scale(0.86,1)" font-size="12" fill="#008000" text-anchor="end" xml:space="preserve">4.0</text>
<text transform="translate(107.5,759.1) scale(0.86,1)" font-size="12" fill="#008000" text-anchor="end" xml:space="preserve">2.0</text>
<text transform="translate(107.5,783.4) scale(0.86,1)" font-size="12" fill="#008000" text-anchor="end" xml:space="preserve">0.0</text>
<text transform="translate(145.0,53.4) scale(0.86,1)" font-size="12" fill="#d8d800" text-anchor="end" xml:space="preserve">10</text>
<text transform="translate(145.0,126.4) scale(0.86,1)" font-size="12" fill="#d8d800" text-anchor="end" xml:space="preserve">9</text>
<text transform="translate(145.0,199.4) scale(0.86,1)" font-size="12" fill="#d8d800" text-anchor="end" xml:space="preserve">8</text>
<text transform="translate(145.0,272.4) scale(0.86,1)" font-size="12" fill="#d8d800" text-anchor="end" xml:space="preserve">7</text>
<text transform="translate(145.0,345.4) scale(0.86,1)" font-size="12" fill="#d8d800" text-anchor="end" xml:space="preserve">6</text>
<text transform="translate(145.0,418.4) scale(0.86,1)" font-size="12" fill="#d8d800" text-anchor="end" xml:space="preserve">5</text>
<text transform="translate(145.0,491.4) scale(0.86,1)" font-size="12" fill="#d8d800" text-anchor="end" xml:space="preserve">4</text>
<text transform="translate(145.0,564.4) scale(0.86,1)" font-size="12" fill="#d8d800" text-anchor="end" xml:space="preserve">3</text>
<text transform="translate(145.0,637.4) scale(0.86,1)" font-size="12" fill="#d8d800" text-anchor="end" xml:space="preserve">2</text>
<text transform="translate(145.0,710.4) scale(0.86,1)" font-size="12" fill="#d8d800" text-anchor="end" xml:space="preserve">1</text>
<text transform="translate(145.0,783.4) scale(0.86,1)" font-size="12" fill="#d8d800" text-anchor="end" xml:space="preserve">0</text>
<text transform="translate(1577.5,53.4) scale(0.86,1)" font-size="12" fill="#808080" text-anchor="start" xml:space="preserve">100</text>
<text transform="translate(1577.5,89.9) scale(0.86,1)" font-size="12" fill="#808080" text-anchor="start" xml:space="preserve">95</text>
<text transform="translate(1577.5,126.4) scale(0.86,1)" font-size="12" fill="#808080" text-anchor="start" xml:space="preserve">90</text>
<text transform="translate(1577.5,162.9) scale(0.86,1)" font-size="12" fill="#808080" text-anchor="start" xml:space="preserve">85</text>
<text transform="translate(1577.5,199.4) scale(0.86,1)" font-size="12" fill="#808080" text-anchor="start" xml:space="preserve">80</text>
<text transform="translate(1577.5,235.9) scale(0.86,1)" font-size="12" fill="#808080" text-anchor="start" xml:space="preserve">75</text>
<text transform="translate(1577.5,272.4) scale(0.86,1)" font-size="12" fill="#808080" text-anchor="start" xml:space="preserve">70</text>
<text transform="translate(1577.5,308.9) scale(0.86,1)" font-size="12" fill="#808080" text-anchor="start" xml:space="preserve">65</text>
<text transform="translate(1577.5,345.4) scale(0.86,1)" font-size="12" fill="#808080" text-anchor="start" xml:space="preserve">60</text>
<text transform="translate(1577.5,381.9) scale(0.86,1)" font-size="12" fill="#808080" text-anchor="start" xml:space="preserve">55</text>
<text transform="translate(1577.5,418.4) scale(0.86,1)" font-size="12" fill="#808080" text-anchor="start" xml:space="preserve">50</text>
<text transform="translate(1577.5,454.9) scale(0.86,1)" font-size="12" fill="#808080" text-anchor="start" xml:space="preserve">45</text>
<text transform="translate(1577.5,491.4) scale(0.86,1)" font-size="12" fill="#808080" text-anchor="start" xml:space="preserve">40</text>
<text transform="translate(1577.5,527.9) scale(0.86,1)" font-size="12" fill="#808080" text-anchor="start" xml:space="preserve">35</text>
<text transform="translate(1577.5,564.4) scale(0.86,1)" font-size="12" fill="#808080" text-anchor="start" xml:space="preserve">30</text>
<text transform="translate(1577.5,600.9) scale(0.86,1)" font-size="12" fill="#808080" text-anchor="start" xml:space="preserve">25</text>
<text transform="translate(1577.5,637.4) scale(0.86,1)" font-size="12" fill="#808080" text-anchor="start" xml:space="preserve">20</text>
<text transform="translate(1577.5,673.9) scale(0.86,1)" font-size="12" fill="#808080" text-anchor="start" xml:space="preserve">15</text>
<text transform="translate(1577.5,710.4) scale(0.86,1)" font-size="12" fill="#808080" text-anchor="start" xml:space="preserve">10</text>
<text transform="translate(1577.5,746.9) scale(0.86,1)" font-size="12" fill="#808080" text-anchor="start" xml:space="preserve">5</text>
<text transform="translate(1577.5,783.4) scale(0.86,1)" font-size="12" fill="#808080" text-anchor="start" xml:space="preserve">0</text>
<text transform="translate(1615.0,783.4) scale(0.86,1)" font-size="12" fill="#0000ff" text-anchor="start" xml:space="preserve">0.0</text>
<text transform="translate(1615.0,754.2) scale(0.86,1)" font-size="12" fill="#0000ff" text-anchor="start" xml:space="preserve">0.2</text>
<text transform="translate(1615.0,725.0) scale(0.86,1)" font-size="12" fill="#0000ff" text-anchor="start" xml:space="preserve">0.4</text>
<text transform="translate(1615.0,695.8) scale(0.86,1)" font-size="12" fill="#0000ff" text-anchor="start" xml:space="preserve">0.6</text>
<text transform="translate(1615.0,666.6) scale(0.86,1)" font-size="12" fill="#0000ff" text-anchor="start" xml:space="preserve">0.8</text>
<text transform="translate(1615.0,637.4) scale(0.86,1)" font-size="12" fill="#0000ff" text-anchor="start" xml:space="preserve">1.0</text>
<text transform="translate(1615.0,608.2) scale(0.86,1)" font-size="12" fill="#0000ff" text-anchor="start" xml:space="preserve">1.2</text>
<text transform="translate(1615.0,579.0) scale(0.86,1)" font-size="12" fill="#0000ff" text-anchor="start" xml:space="preserve">1.4</text>
<text transform="translate(1615.0,549.8) scale(0.86,1)" font-size="12" fill="#0000ff" text-anchor="start" xml:space="preserve">1.6</text>
<text transform="translate(1615.0,520.6) scale(0.86,1)" font-size="12" fill="#0000ff" text-anchor="start" xml:space="preserve">1.8</text>
<text transform="translate(1615.0,491.4) scale(0.86,1)" font-size="12" fill="#0000ff" text-anchor="start" xml:space="preserve">2.0</text>
<text transform="translate(1615.0,462.2) scale(0.86,1)" font-size="12" fill="#0000ff" text-anchor="start" xml:space="preserve">2.2</text>
<text transform="translate(1615.0,433.0) scale(0.86,1)" font-size="12" fill="#0000ff" text-anchor="start" xml:space="preserve">2.4</text>
<text transform="translate(1615.0,403.8) scale(0.86,1)" font-size="12" fill="#0000ff" text-anchor="start" xml:space="preserve">2.6</text>
<text transform="translate(1615.0,374.6) scale(0.86,1)" font-size="12" fill="#0000ff" text-anchor="start" xml:space="preserve">2.8</text>
<text transform="translate(1615.0,345.4) scale(0.86,1)" font-size="12" fill="#0000ff" text-anchor="start" xml:space="preserve">3.0</text>
<text transform="translate(1615.0,316.2) scale(0.86,1)" font-size="12" fill="#0000ff" text-anchor="start" xml:space="preserve">3.2</text>
<text transform="translate(1615.0,287.0) scale(0.86,1)" font-size="12" fill="#0000ff" text-anchor="start" xml:space="preserve">3.4</text>
<text transform="translate(1615.0,257.8) scale(0.86,1)" font-size="12" fill="#0000ff" text-anchor="start" xml:space="preserve">3.6</text>
<text transform="translate(1615.0,228.6) scale(0.86,1)" font-size="12" fill="#0000ff" text-anchor="start" xml:space="preserve">3.8</text>
<text transform="translate(1615.0,199.4) scale(0.86,1)" font-size="12" fill="#0000ff" text-anchor="start" xml:space="preserve">4.0</text>
<text transform="translate(1615.0,170.2) scale(0.86,1)" font-size="12" fill="#0000ff" text-anchor="start" xml:space="preserve">4.2</text>
<text transform="translate(1615.0,141.0) scale(0.86,1)" font-size="12" fill="#0000ff" text-anchor="start" xml:space="preserve">4.4</text>
<text transform="translate(1615.0,111.8) scale(0.86,1)" font-size="12" fill="#0000ff" text-anchor="start" xml:space="preserve">4.6</text>
<text transform="translate(1615.0,82.6) scale(0.86,1)" font-size="12" fill="#0000ff" text-anchor="start" xml:space="preserve">4.8</text>
<text transform="translate(1651.5,783.4) scale(0.86,1)" font-size="12" fill="#008000" text-anchor="start" xml:space="preserve">0</text>
<text transform="translate(1671.5,783.4) scale(0.86,1)" font-size="12" fill="#008000" text-anchor="start" xml:space="preserve">N</text>
<text transform="translate(1651.5,722.6) scale(0.86,1)" font-size="12" fill="#008000" text-anchor="start" xml:space="preserve">30</text>
<text transform="translate(1651.5,661.7) scale(0.86,1)" font-size="12" fill="#008000" text-anchor="start" xml:space="preserve">60</text>
<text transform="translate(1651.5,600.9) scale(0.86,1)" font-size="12" fill="#008000" text-anchor="start" xml:space="preserve">90</text>
<text transform="translate(1671.5,600.9) scale(0.86,1)" font-size="12" fill="#008000" text-anchor="start" xml:space="preserve">O</text>
<text transform="translate(1651.5,540.1) scale(0.86,1)" font-size="12" fill="#008000" text-anchor="start" xml:space="preserve">120</text>
<text transform="translate(1651.5,479.2) scale(0.86,1)" font-size="12" fill="#008000" text-anchor="start" xml:space="preserve">150</text>
<text transform="translate(1651.5,418.4) scale(0.86,1)" font-size="12" fill="#008000" text-anchor="start" xml:space="preserve">180</text>
<text transform="translate(1671.5,418.4) scale(0.86,1)" font-size="12" fill="#008000" text-anchor="start" xml:space="preserve">S</text>
<text transform="translate(1651.5,357.6) scale(0.86,1)" font-size="12" fill="#008000" text-anchor="start" xml:space="preserve">210</text>
<text transform="translate(1651.5,296.7) scale(0.86,1)" font-size="12" fill="#008000" text-anchor="start" xml:space="preserve">240</text>
<text transform="translate(1651.5,235.9) scale(0.86,1)" font-size="12" fill="#008000" text-anchor="start" xml:space="preserve">270</text>
<text transform="translate(1671.5,235.9) scale(0.86,1)" font-size="12" fill="#008000" text-anchor="start" xml:space="preserve">W</text>
<text transform="translate(1651.5,175.1) scale(0.86,1)" font-size="12" fill="#008000" text-anchor="start" xml:space="preserve">300</text>
<text transform="translate(1651.5,114.2) scale(0.86,1)" font-size="12" fill="#008000" text-anchor="start" xml:space="preserve">330</text>
<text transform="translate(1651.5,53.4) scale(0.86,1)" font-size="12" fill="#008000" text-anchor="start" xml:space="preserve">360</text>
<text transform="translate(1671.5,53.4) scale(0.86,1)" font-size="12" fill="#008000" text-anchor="start" xml:space="preserve">N</text>
<text transform="translate(136.7,797.0) scale(0.88,1)" font-size="12" fill="#000" text-anchor="start" xml:space="preserve">31.12.  Mo</text>
<text transform="translate(340.7,797.0) scale(0.88,1)" font-size="12" fill="#000" text-anchor="start" xml:space="preserve">01.01.  Di</text>
<text transform="translate(544.7,797.0) scale(0.88,1)" font-size="12" fill="#000" text-anchor="start" xml:space="preserve">02.01.  Mi</text>
<text transform="translate(748.6,797.0) scale(0.88,1)" font-size="12" fill="#000" text-anchor="start" xml:space="preserve">03.01.  Do</text>
<text transform="translate(952.6,797.0) scale(0.88,1)" font-size="12" fill="#000" text-anchor="start" xml:space="preserve">04.01.  Fr</text>
<text transform="translate(1156.6,797.0) scale(0.88,1)" font-size="12" fill="#000" text-anchor="start" xml:space="preserve">05.01.  Sa</text>
<text transform="translate(1360.6,797.0) scale(0.88,1)" font-size="12" fill="#000" text-anchor="start" xml:space="preserve">06.01.  So</text>
<rect x="161.5" y="33.5" width="9" height="9" fill="#ff0000" stroke="#000" stroke-width="1" shape-rendering="crispEdges"/>
<text x="175.8" y="42.0" font-size="12" fill="#ff0000" text-anchor="start" textLength="53.2" lengthAdjust="spacingAndGlyphs" xml:space="preserve">Temperatur</text>
<rect x="256.5" y="33.5" width="9" height="9" fill="#804040" stroke="#000" stroke-width="1" shape-rendering="crispEdges"/>
<text x="270.8" y="42.0" font-size="12" fill="#ff0000" text-anchor="start" textLength="61.2" lengthAdjust="spacingAndGlyphs" xml:space="preserve">Temp. +5 cm</text>
<rect x="351.5" y="33.5" width="9" height="9" fill="#808080" stroke="#000" stroke-width="1" shape-rendering="crispEdges"/>
<text x="365.8" y="42.0" font-size="12" fill="#808080" text-anchor="start" textLength="50.5" lengthAdjust="spacingAndGlyphs" xml:space="preserve">Feuchte A.</text>
<rect x="446.5" y="33.5" width="9" height="9" fill="#000000" stroke="#000" stroke-width="1" shape-rendering="crispEdges"/>
<text x="460.8" y="42.0" font-size="12" fill="#000000" text-anchor="start" textLength="44" lengthAdjust="spacingAndGlyphs" xml:space="preserve">Luftdruck</text>
<rect x="541.5" y="33.5" width="9" height="9" fill="#0000ff" stroke="#000" stroke-width="1" shape-rendering="crispEdges"/>
<text x="555.8" y="42.0" font-size="12" fill="#0000ff" text-anchor="start" textLength="31.8" lengthAdjust="spacingAndGlyphs" xml:space="preserve">Regen</text>
<rect x="636.5" y="33.5" width="9" height="9" fill="#008000" stroke="#000" stroke-width="1" shape-rendering="crispEdges"/>
<text x="650.8" y="42.0" font-size="12" fill="#008000" text-anchor="start" textLength="25.1" lengthAdjust="spacingAndGlyphs" xml:space="preserve">Wind</text>
<rect x="731.5" y="33.5" width="9" height="9" fill="#008000" stroke="#000" stroke-width="1" shape-rendering="crispEdges"/>
<text x="745.8" y="42.0" font-size="12" fill="#008000" text-anchor="start" textLength="42.9" lengthAdjust="spacingAndGlyphs" xml:space="preserve">Richtung</text>
<rect x="826.5" y="33.5" width="9" height="9" fill="#d8d800" stroke="#000" stroke-width="1" shape-rendering="crispEdges"/>
<text x="840.8" y="42.0" font-size="12" fill="#d8d800" text-anchor="start" textLength="52.6" lengthAdjust="spacingAndGlyphs" xml:space="preserve">Zeit Sonne</text>
<rect x="921.5" y="33.5" width="9" height="9" fill="#00ffff" stroke="#000" stroke-width="1" shape-rendering="crispEdges"/>
<text x="935.8" y="42.0" font-size="12" fill="#ff0000" text-anchor="start" textLength="45.3" lengthAdjust="spacingAndGlyphs" xml:space="preserve">Taupunkt</text>
<rect x="1016.5" y="33.5" width="9" height="9" fill="#ff8080" stroke="#000" stroke-width="1" shape-rendering="crispEdges"/>
<text x="1030.8" y="42.0" font-size="12" fill="#ff0000" text-anchor="start" textLength="42.9" lengthAdjust="spacingAndGlyphs" xml:space="preserve">Windchill</text>
<rect x="1111.5" y="33.5" width="9" height="9" fill="#00ff40" stroke="#000" stroke-width="1" shape-rendering="crispEdges"/>
<text x="1125.8" y="42.0" font-size="12" fill="#008000" text-anchor="start" textLength="49.4" lengthAdjust="spacingAndGlyphs" xml:space="preserve">Windböen</text>
<rect x="0" y="809" width="1677" height="72" fill="#0068dc"/>
<rect x="0" y="809" width="2" height="72" fill="#fff"/>
<rect x="86.0" y="809" width="2.4" height="72" fill="#fff"/>
<rect x="203.9" y="809" width="2.4" height="72" fill="#fff"/>
<rect x="321.8" y="809" width="2.4" height="72" fill="#fff"/>
<rect x="439.7" y="809" width="2.4" height="72" fill="#fff"/>
<rect x="557.6" y="809" width="2.4" height="72" fill="#fff"/>
<rect x="675.5" y="809" width="2.4" height="72" fill="#fff"/>
<rect x="793.4" y="809" width="2.4" height="72" fill="#fff"/>
<rect x="911.3" y="809" width="2.4" height="72" fill="#fff"/>
<text transform="translate(8.3,827.0) scale(0.96,1)" font-size="12" fill="#000" text-anchor="start" font-weight="bold" xml:space="preserve">Sensor</text>
<text transform="translate(8.3,843.0) scale(0.96,1)" font-size="12" fill="#000" text-anchor="start" font-weight="bold" xml:space="preserve">MinWert</text>
<text transform="translate(8.3,858.5) scale(0.96,1)" font-size="12" fill="#000" text-anchor="start" font-weight="bold" xml:space="preserve">MaxWert</text>
<text transform="translate(8.3,874.0) scale(0.96,1)" font-size="12" fill="#000" text-anchor="start" font-weight="bold" xml:space="preserve">Durchschnitt</text>
<text transform="translate(94.3,827.0) scale(0.96,1)" font-size="12" fill="#000" text-anchor="start" font-weight="bold" xml:space="preserve">Temperatur</text>
<text transform="translate(198.4,827.0) scale(0.96,1)" font-size="12" fill="#000" text-anchor="end" font-weight="bold" xml:space="preserve">°C</text>
<text transform="translate(94.3,843.0) scale(0.89,1)" font-size="12" fill="#000" text-anchor="start" xml:space="preserve">04.01.  08:26</text>
<text transform="translate(198.4,843.0) scale(0.89,1)" font-size="12" fill="#000" text-anchor="end" xml:space="preserve">-6.4</text>
<text transform="translate(94.3,858.5) scale(0.89,1)" font-size="12" fill="#000" text-anchor="start" xml:space="preserve">06.01.  13:10</text>
<text transform="translate(198.4,858.5) scale(0.89,1)" font-size="12" fill="#000" text-anchor="end" xml:space="preserve">4.7</text>
<text transform="translate(198.4,874.0) scale(0.89,1)" font-size="12" fill="#000" text-anchor="end" xml:space="preserve">-0.15</text>
<text transform="translate(212.2,827.0) scale(0.96,1)" font-size="12" fill="#000" text-anchor="start" font-weight="bold" xml:space="preserve">Temp. +5 cm</text>
<text transform="translate(316.3,827.0) scale(0.96,1)" font-size="12" fill="#000" text-anchor="end" font-weight="bold" xml:space="preserve">°C</text>
<text transform="translate(212.2,843.0) scale(0.89,1)" font-size="12" fill="#000" text-anchor="start" xml:space="preserve">04.01.  08:00</text>
<text transform="translate(316.3,843.0) scale(0.89,1)" font-size="12" fill="#000" text-anchor="end" xml:space="preserve">-5.2</text>
<text transform="translate(212.2,858.5) scale(0.89,1)" font-size="12" fill="#000" text-anchor="start" xml:space="preserve">06.01.  13:00</text>
<text transform="translate(316.3,858.5) scale(0.89,1)" font-size="12" fill="#000" text-anchor="end" xml:space="preserve">4.0</text>
<text transform="translate(316.3,874.0) scale(0.89,1)" font-size="12" fill="#000" text-anchor="end" xml:space="preserve">-0.46</text>
<text transform="translate(330.1,827.0) scale(0.96,1)" font-size="12" fill="#000" text-anchor="start" font-weight="bold" xml:space="preserve">Solarstrahlg</text>
<text transform="translate(434.2,827.0) scale(0.96,1)" font-size="12" fill="#000" text-anchor="end" font-weight="bold" xml:space="preserve">W/m²</text>
<text transform="translate(330.1,843.0) scale(0.89,1)" font-size="12" fill="#000" text-anchor="start" xml:space="preserve">Elevation</text>
<text transform="translate(434.2,843.0) scale(0.89,1)" font-size="12" fill="#000" text-anchor="end" xml:space="preserve">-57.157</text>
<text transform="translate(330.1,858.5) scale(0.89,1)" font-size="12" fill="#000" text-anchor="start" xml:space="preserve">00.00.  00:00</text>
<text transform="translate(434.2,858.5) scale(0.89,1)" font-size="12" fill="#000" text-anchor="end" xml:space="preserve">--</text>
<text transform="translate(330.1,874.0) scale(0.89,1)" font-size="12" fill="#000" text-anchor="start" xml:space="preserve">0 min.</text>
<text transform="translate(434.2,874.0) scale(0.89,1)" font-size="12" fill="#000" text-anchor="end" xml:space="preserve">0</text>
<text transform="translate(448.0,827.0) scale(0.96,1)" font-size="12" fill="#000" text-anchor="start" font-weight="bold" xml:space="preserve">Luftdruck</text>
<text transform="translate(552.1,827.0) scale(0.96,1)" font-size="12" fill="#000" text-anchor="end" font-weight="bold" xml:space="preserve">hPa</text>
<text transform="translate(448.0,843.0) scale(0.89,1)" font-size="12" fill="#000" text-anchor="start" xml:space="preserve">06.01.  06:00</text>
<text transform="translate(552.1,843.0) scale(0.89,1)" font-size="12" fill="#000" text-anchor="end" xml:space="preserve">1003.4</text>
<text transform="translate(448.0,858.5) scale(0.89,1)" font-size="12" fill="#000" text-anchor="start" xml:space="preserve">02.01.  11:00</text>
<text transform="translate(552.1,858.5) scale(0.89,1)" font-size="12" fill="#000" text-anchor="end" xml:space="preserve">1026.7</text>
<text transform="translate(448.0,874.0) scale(0.89,1)" font-size="12" fill="#000" text-anchor="start" xml:space="preserve">^1.5hPa/h</text>
<text transform="translate(552.1,874.0) scale(0.89,1)" font-size="12" fill="#000" text-anchor="end" xml:space="preserve">1018.3</text>
<text transform="translate(565.9,827.0) scale(0.96,1)" font-size="12" fill="#000" text-anchor="start" font-weight="bold" xml:space="preserve">Windböen</text>
<text transform="translate(670.0,827.0) scale(0.96,1)" font-size="12" fill="#000" text-anchor="end" font-weight="bold" xml:space="preserve">km/h</text>
<text transform="translate(565.9,843.0) scale(0.89,1)" font-size="12" fill="#000" text-anchor="start" xml:space="preserve">06.01.  23:00</text>
<text transform="translate(670.0,843.0) scale(0.89,1)" font-size="12" fill="#000" text-anchor="end" xml:space="preserve">0.0</text>
<text transform="translate(565.9,858.5) scale(0.89,1)" font-size="12" fill="#000" text-anchor="start" xml:space="preserve">03.01.  06:26</text>
<text transform="translate(670.0,858.5) scale(0.89,1)" font-size="12" fill="#000" text-anchor="end" xml:space="preserve">36.4</text>
<text transform="translate(565.9,874.0) scale(0.89,1)" font-size="12" fill="#000" text-anchor="start" xml:space="preserve">1975.3 km</text>
<text transform="translate(670.0,874.0) scale(0.89,1)" font-size="12" fill="#000" text-anchor="end" xml:space="preserve">11.8</text>
<text transform="translate(683.8,827.0) scale(0.96,1)" font-size="12" fill="#000" text-anchor="start" font-weight="bold" xml:space="preserve">Regen</text>
<text transform="translate(787.9,827.0) scale(0.96,1)" font-size="12" fill="#000" text-anchor="end" font-weight="bold" xml:space="preserve">l/m²</text>
<text transform="translate(683.8,843.0) scale(0.89,1)" font-size="12" fill="#000" text-anchor="start" xml:space="preserve">0 min.</text>
<text transform="translate(683.8,858.5) scale(0.89,1)" font-size="12" fill="#000" text-anchor="start" xml:space="preserve">06.01.  08:54</text>
<text transform="translate(787.9,858.5) scale(0.89,1)" font-size="12" fill="#000" text-anchor="end" xml:space="preserve">1.8</text>
<text transform="translate(683.8,874.0) scale(0.89,1)" font-size="12" fill="#000" text-anchor="start" xml:space="preserve">Gesamt:</text>
<text transform="translate(787.9,874.0) scale(0.89,1)" font-size="12" fill="#000" text-anchor="end" xml:space="preserve">4.6</text>
<text transform="translate(801.7,827.0) scale(0.96,1)" font-size="12" fill="#000" text-anchor="start" font-weight="bold" xml:space="preserve">Zeit Sonne</text>
<text transform="translate(905.8,827.0) scale(0.96,1)" font-size="12" fill="#000" text-anchor="end" font-weight="bold" xml:space="preserve">h</text>
<text transform="translate(801.7,858.5) scale(0.89,1)" font-size="12" fill="#000" text-anchor="start" xml:space="preserve">06.01.  23:00</text>
<text transform="translate(905.8,858.5) scale(0.89,1)" font-size="12" fill="#000" text-anchor="end" xml:space="preserve">0.00</text>
<text transform="translate(801.7,874.0) scale(0.89,1)" font-size="12" fill="#000" text-anchor="start" xml:space="preserve">0 min.</text>
<text transform="translate(905.8,874.0) scale(0.89,1)" font-size="12" fill="#000" text-anchor="end" xml:space="preserve">0</text>
</svg>
</body></html>
